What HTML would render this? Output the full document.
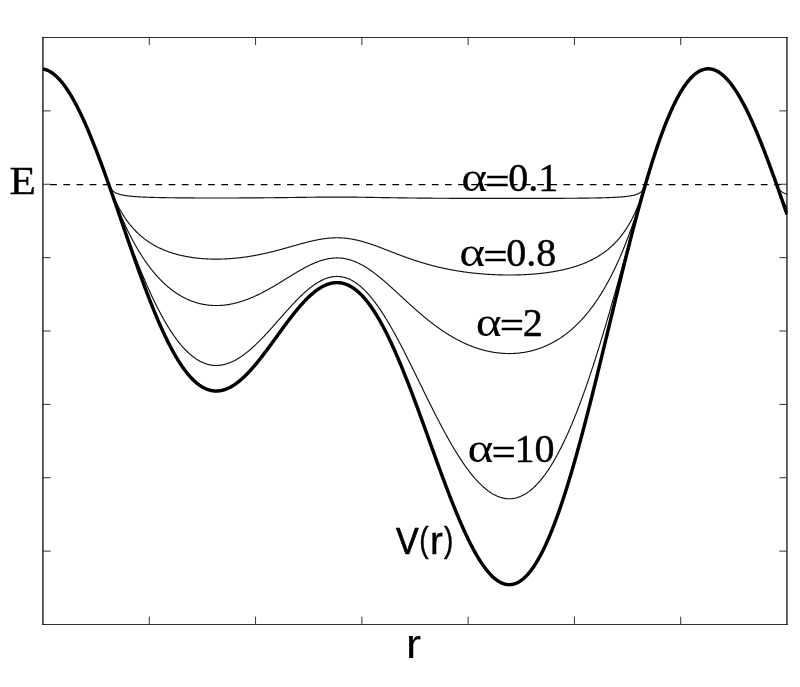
<!DOCTYPE html>
<html><head><meta charset="utf-8"><title>V(r)</title>
<style>
html,body{margin:0;padding:0;background:#fff;}
body{width:800px;height:687px;overflow:hidden;}
svg{display:block;}
.s{font-family:"Liberation Serif",serif;font-size:40px;fill:#000;stroke:#000;stroke-width:0.45px;}
.a{stroke-width:0}
.q{stroke-width:0.3px}
.n{font-family:"Liberation Sans",sans-serif;fill:#000;stroke:#000;stroke-width:0.4px;}
</style></head><body>
<svg width="800" height="687" viewBox="0 0 800 687">
<rect width="800" height="687" fill="#fff"/>
<defs><clipPath id="c"><rect x="43.0" y="37.5" width="744.50" height="587"/></clipPath></defs>
<g fill="none">
<path d="M42.3,37.5H787.6" stroke="#2e2e2e" stroke-width="1.2"/>
<path d="M42.3,624.5H787.6" stroke="#2e2e2e" stroke-width="1.2"/>
<path d="M42.9,37V625" stroke="#111" stroke-width="1.35"/>
<path d="M786.95,37V625" stroke="#111" stroke-width="1.3"/>
</g>
<path d="M149.29,37.5v7.6 M149.29,624.5v-7.8 M255.57,37.5v7.6 M255.57,624.5v-7.8 M361.86,37.5v7.6 M361.86,624.5v-7.8 M468.14,37.5v7.6 M468.14,624.5v-7.8 M574.43,37.5v7.6 M574.43,624.5v-7.8 M680.71,37.5v7.6 M680.71,624.5v-7.8 M43.0,110.88h7.6 M787.0,110.88h-7.6 M43.0,184.25h7.6 M787.0,184.25h-7.6 M43.0,257.62h7.6 M787.0,257.62h-7.6 M43.0,331.00h7.6 M787.0,331.00h-7.6 M43.0,404.38h7.6 M787.0,404.38h-7.6 M43.0,477.75h7.6 M787.0,477.75h-7.6 M43.0,551.12h7.6 M787.0,551.12h-7.6 " fill="none" stroke="#333" stroke-width="1"/>
<path d="M50.2,184.5H787.0" fill="none" stroke="#000" stroke-width="1.25" stroke-dasharray="6.7 6.46"/>
<g clip-path="url(#c)" fill="none" stroke="#000" stroke-linejoin="round">
<path d="M108.91,184.87 L109.41,186.06 L109.91,187.07 L110.41,187.94 L110.91,188.69 L111.41,189.34 L111.91,189.92 L112.41,190.43 L112.91,190.89 L113.41,191.30 L113.90,191.68 L114.40,192.01 L114.90,192.32 L115.40,192.61 L115.90,192.87 L116.40,193.11 L116.90,193.33 L117.40,193.53 L117.90,193.73 L118.40,193.90 L118.90,194.07 L119.40,194.23 L119.90,194.37 L120.40,194.51 L120.90,194.64 L121.39,194.76 L121.89,194.88 L122.39,194.99 L122.89,195.09 L123.39,195.19 L123.89,195.28 L124.39,195.37 L124.89,195.46 L125.39,195.54 L125.89,195.62 L126.39,195.69 L126.89,195.76 L127.39,195.83 L127.89,195.89 L128.39,195.95 L128.88,196.01 L129.38,196.07 L129.88,196.13 L130.38,196.18 L130.88,196.23 L131.38,196.28 L131.88,196.33 L132.38,196.37 L132.88,196.41 L133.38,196.46 L133.88,196.50 L134.38,196.54 L134.88,196.57 L135.38,196.61 L135.88,196.65 L136.37,196.68 L136.87,196.72 L137.37,196.75 L137.87,196.78 L138.37,196.81 L138.87,196.84 L139.37,196.87 L139.87,196.90 L140.37,196.92 L140.87,196.95 L141.37,196.97 L141.87,197.00 L142.37,197.02 L142.87,197.05 L143.37,197.07 L143.86,197.09 L144.36,197.11 L144.86,197.13 L145.36,197.15 L145.86,197.17 L146.36,197.19 L146.86,197.21 L147.36,197.23 L147.86,197.25 L148.36,197.27 L148.86,197.28 L149.36,197.30 L149.86,197.32 L150.36,197.33 L150.86,197.35 L151.35,197.36 L151.85,197.38 L152.35,197.39 L152.85,197.41 L153.35,197.42 L153.85,197.43 L154.35,197.45 L154.85,197.46 L155.35,197.47 L155.85,197.48 L156.35,197.50 L156.85,197.51 L157.35,197.52 L157.85,197.53 L158.34,197.54 L158.84,197.55 L159.34,197.56 L159.84,197.57 L160.34,197.58 L160.84,197.59 L161.34,197.60 L161.84,197.61 L162.34,197.62 L162.84,197.63 L163.34,197.64 L163.84,197.65 L164.34,197.66 L164.84,197.66 L165.34,197.67 L165.83,197.68 L166.33,197.69 L166.83,197.70 L167.33,197.70 L167.83,197.71 L168.33,197.72 L168.83,197.72 L169.33,197.73 L169.83,197.74 L170.33,197.74 L170.83,197.75 L171.33,197.76 L171.83,197.76 L172.33,197.77 L172.83,197.78 L173.32,197.78 L173.82,197.79 L174.32,197.79 L174.82,197.80 L175.32,197.80 L175.82,197.81 L176.32,197.81 L176.82,197.82 L177.32,197.82 L177.82,197.83 L178.32,197.83 L178.82,197.84 L179.32,197.84 L179.82,197.85 L180.32,197.85 L180.81,197.86 L181.31,197.86 L181.81,197.87 L182.31,197.87 L182.81,197.87 L183.31,197.88 L183.81,197.88 L184.31,197.88 L184.81,197.89 L185.31,197.89 L185.81,197.90 L186.31,197.90 L186.81,197.90 L187.31,197.91 L187.81,197.91 L188.30,197.91 L188.80,197.91 L189.30,197.92 L189.80,197.92 L190.30,197.92 L190.80,197.93 L191.30,197.93 L191.80,197.93 L192.30,197.93 L192.80,197.94 L193.30,197.94 L193.80,197.94 L194.30,197.94 L194.80,197.95 L195.30,197.95 L195.79,197.95 L196.29,197.95 L196.79,197.95 L197.29,197.96 L197.79,197.96 L198.29,197.96 L198.79,197.96 L199.29,197.96 L199.79,197.96 L200.29,197.97 L200.79,197.97 L201.29,197.97 L201.79,197.97 L202.29,197.97 L202.79,197.97 L203.28,197.97 L203.78,197.97 L204.28,197.98 L204.78,197.98 L205.28,197.98 L205.78,197.98 L206.28,197.98 L206.78,197.98 L207.28,197.98 L207.78,197.98 L208.28,197.98 L208.78,197.98 L209.28,197.98 L209.78,197.99 L210.28,197.99 L210.77,197.99 L211.27,197.99 L211.77,197.99 L212.27,197.99 L212.77,197.99 L213.27,197.99 L213.77,197.99 L214.27,197.99 L214.77,197.99 L215.27,197.99 L215.77,197.99 L216.27,197.99 L216.77,197.99 L217.27,197.99 L217.77,197.99 L218.26,197.99 L218.76,197.99 L219.26,197.99 L219.76,197.99 L220.26,197.99 L220.76,197.99 L221.26,197.99 L221.76,197.99 L222.26,197.99 L222.76,197.99 L223.26,197.98 L223.76,197.98 L224.26,197.98 L224.76,197.98 L225.26,197.98 L225.75,197.98 L226.25,197.98 L226.75,197.98 L227.25,197.98 L227.75,197.98 L228.25,197.98 L228.75,197.98 L229.25,197.97 L229.75,197.97 L230.25,197.97 L230.75,197.97 L231.25,197.97 L231.75,197.97 L232.25,197.97 L232.74,197.97 L233.24,197.96 L233.74,197.96 L234.24,197.96 L234.74,197.96 L235.24,197.96 L235.74,197.96 L236.24,197.95 L236.74,197.95 L237.24,197.95 L237.74,197.95 L238.24,197.95 L238.74,197.95 L239.24,197.94 L239.74,197.94 L240.23,197.94 L240.73,197.94 L241.23,197.94 L241.73,197.93 L242.23,197.93 L242.73,197.93 L243.23,197.93 L243.73,197.92 L244.23,197.92 L244.73,197.92 L245.23,197.92 L245.73,197.91 L246.23,197.91 L246.73,197.91 L247.23,197.91 L247.72,197.90 L248.22,197.90 L248.72,197.90 L249.22,197.90 L249.72,197.89 L250.22,197.89 L250.72,197.89 L251.22,197.88 L251.72,197.88 L252.22,197.88 L252.72,197.88 L253.22,197.87 L253.72,197.87 L254.22,197.87 L254.72,197.86 L255.21,197.86 L255.71,197.86 L256.21,197.85 L256.71,197.85 L257.21,197.85 L257.71,197.84 L258.21,197.84 L258.71,197.83 L259.21,197.83 L259.71,197.83 L260.21,197.82 L260.71,197.82 L261.21,197.82 L261.71,197.81 L262.21,197.81 L262.70,197.80 L263.20,197.80 L263.70,197.80 L264.20,197.79 L264.70,197.79 L265.20,197.78 L265.70,197.78 L266.20,197.77 L266.70,197.77 L267.20,197.77 L267.70,197.76 L268.20,197.76 L268.70,197.75 L269.20,197.75 L269.70,197.74 L270.19,197.74 L270.69,197.73 L271.19,197.73 L271.69,197.72 L272.19,197.72 L272.69,197.71 L273.19,197.71 L273.69,197.70 L274.19,197.70 L274.69,197.69 L275.19,197.69 L275.69,197.68 L276.19,197.68 L276.69,197.67 L277.19,197.67 L277.68,197.66 L278.18,197.66 L278.68,197.65 L279.18,197.65 L279.68,197.64 L280.18,197.63 L280.68,197.63 L281.18,197.62 L281.68,197.62 L282.18,197.61 L282.68,197.61 L283.18,197.60 L283.68,197.59 L284.18,197.59 L284.68,197.58 L285.17,197.58 L285.67,197.57 L286.17,197.56 L286.67,197.56 L287.17,197.55 L287.67,197.55 L288.17,197.54 L288.67,197.53 L289.17,197.53 L289.67,197.52 L290.17,197.51 L290.67,197.51 L291.17,197.50 L291.67,197.50 L292.17,197.49 L292.66,197.48 L293.16,197.48 L293.66,197.47 L294.16,197.46 L294.66,197.46 L295.16,197.45 L295.66,197.44 L296.16,197.44 L296.66,197.43 L297.16,197.42 L297.66,197.42 L298.16,197.41 L298.66,197.40 L299.16,197.40 L299.66,197.39 L300.15,197.38 L300.65,197.38 L301.15,197.37 L301.65,197.36 L302.15,197.36 L302.65,197.35 L303.15,197.34 L303.65,197.34 L304.15,197.33 L304.65,197.33 L305.15,197.32 L305.65,197.31 L306.15,197.31 L306.65,197.30 L307.14,197.29 L307.64,197.29 L308.14,197.28 L308.64,197.27 L309.14,197.27 L309.64,197.26 L310.14,197.26 L310.64,197.25 L311.14,197.24 L311.64,197.24 L312.14,197.23 L312.64,197.22 L313.14,197.22 L313.64,197.21 L314.14,197.21 L314.63,197.20 L315.13,197.20 L315.63,197.19 L316.13,197.19 L316.63,197.18 L317.13,197.17 L317.63,197.17 L318.13,197.16 L318.63,197.16 L319.13,197.15 L319.63,197.15 L320.13,197.14 L320.63,197.14 L321.13,197.13 L321.63,197.13 L322.12,197.13 L322.62,197.12 L323.12,197.12 L323.62,197.11 L324.12,197.11 L324.62,197.11 L325.12,197.10 L325.62,197.10 L326.12,197.10 L326.62,197.09 L327.12,197.09 L327.62,197.09 L328.12,197.08 L328.62,197.08 L329.12,197.08 L329.61,197.08 L330.11,197.07 L330.61,197.07 L331.11,197.07 L331.61,197.07 L332.11,197.07 L332.61,197.06 L333.11,197.06 L333.61,197.06 L334.11,197.06 L334.61,197.06 L335.11,197.06 L335.61,197.06 L336.11,197.06 L336.61,197.06 L337.10,197.06 L337.60,197.06 L338.10,197.06 L338.60,197.06 L339.10,197.06 L339.60,197.06 L340.10,197.06 L340.60,197.06 L341.10,197.06 L341.60,197.06 L342.10,197.07 L342.60,197.07 L343.10,197.07 L343.60,197.07 L344.10,197.07 L344.59,197.08 L345.09,197.08 L345.59,197.08 L346.09,197.09 L346.59,197.09 L347.09,197.09 L347.59,197.10 L348.09,197.10 L348.59,197.10 L349.09,197.11 L349.59,197.11 L350.09,197.11 L350.59,197.12 L351.09,197.12 L351.59,197.13 L352.08,197.13 L352.58,197.14 L353.08,197.14 L353.58,197.15 L354.08,197.15 L354.58,197.16 L355.08,197.16 L355.58,197.17 L356.08,197.18 L356.58,197.18 L357.08,197.19 L357.58,197.19 L358.08,197.20 L358.58,197.21 L359.08,197.21 L359.57,197.22 L360.07,197.23 L360.57,197.23 L361.07,197.24 L361.57,197.25 L362.07,197.25 L362.57,197.26 L363.07,197.27 L363.57,197.28 L364.07,197.28 L364.57,197.29 L365.07,197.30 L365.57,197.31 L366.07,197.31 L366.57,197.32 L367.06,197.33 L367.56,197.34 L368.06,197.34 L368.56,197.35 L369.06,197.36 L369.56,197.37 L370.06,197.38 L370.56,197.38 L371.06,197.39 L371.56,197.40 L372.06,197.41 L372.56,197.42 L373.06,197.43 L373.56,197.43 L374.06,197.44 L374.55,197.45 L375.05,197.46 L375.55,197.47 L376.05,197.47 L376.55,197.48 L377.05,197.49 L377.55,197.50 L378.05,197.51 L378.55,197.52 L379.05,197.52 L379.55,197.53 L380.05,197.54 L380.55,197.55 L381.05,197.56 L381.54,197.57 L382.04,197.57 L382.54,197.58 L383.04,197.59 L383.54,197.60 L384.04,197.61 L384.54,197.61 L385.04,197.62 L385.54,197.63 L386.04,197.64 L386.54,197.65 L387.04,197.65 L387.54,197.66 L388.04,197.67 L388.54,197.68 L389.03,197.69 L389.53,197.69 L390.03,197.70 L390.53,197.71 L391.03,197.72 L391.53,197.73 L392.03,197.73 L392.53,197.74 L393.03,197.75 L393.53,197.76 L394.03,197.76 L394.53,197.77 L395.03,197.78 L395.53,197.78 L396.03,197.79 L396.52,197.80 L397.02,197.81 L397.52,197.81 L398.02,197.82 L398.52,197.83 L399.02,197.83 L399.52,197.84 L400.02,197.85 L400.52,197.86 L401.02,197.86 L401.52,197.87 L402.02,197.88 L402.52,197.88 L403.02,197.89 L403.52,197.90 L404.01,197.90 L404.51,197.91 L405.01,197.91 L405.51,197.92 L406.01,197.93 L406.51,197.93 L407.01,197.94 L407.51,197.95 L408.01,197.95 L408.51,197.96 L409.01,197.96 L409.51,197.97 L410.01,197.98 L410.51,197.98 L411.01,197.99 L411.50,197.99 L412.00,198.00 L412.50,198.00 L413.00,198.01 L413.50,198.02 L414.00,198.02 L414.50,198.03 L415.00,198.03 L415.50,198.04 L416.00,198.04 L416.50,198.05 L417.00,198.05 L417.50,198.06 L418.00,198.06 L418.50,198.07 L418.99,198.07 L419.49,198.08 L419.99,198.08 L420.49,198.09 L420.99,198.09 L421.49,198.10 L421.99,198.10 L422.49,198.11 L422.99,198.11 L423.49,198.12 L423.99,198.12 L424.49,198.13 L424.99,198.13 L425.49,198.13 L425.99,198.14 L426.48,198.14 L426.98,198.15 L427.48,198.15 L427.98,198.16 L428.48,198.16 L428.98,198.16 L429.48,198.17 L429.98,198.17 L430.48,198.18 L430.98,198.18 L431.48,198.18 L431.98,198.19 L432.48,198.19 L432.98,198.20 L433.48,198.20 L433.97,198.20 L434.47,198.21 L434.97,198.21 L435.47,198.21 L435.97,198.22 L436.47,198.22 L436.97,198.22 L437.47,198.23 L437.97,198.23 L438.47,198.23 L438.97,198.24 L439.47,198.24 L439.97,198.24 L440.47,198.25 L440.97,198.25 L441.46,198.25 L441.96,198.26 L442.46,198.26 L442.96,198.26 L443.46,198.27 L443.96,198.27 L444.46,198.27 L444.96,198.28 L445.46,198.28 L445.96,198.28 L446.46,198.28 L446.96,198.29 L447.46,198.29 L447.96,198.29 L448.46,198.29 L448.95,198.30 L449.45,198.30 L449.95,198.30 L450.45,198.31 L450.95,198.31 L451.45,198.31 L451.95,198.31 L452.45,198.32 L452.95,198.32 L453.45,198.32 L453.95,198.32 L454.45,198.32 L454.95,198.33 L455.45,198.33 L455.94,198.33 L456.44,198.33 L456.94,198.34 L457.44,198.34 L457.94,198.34 L458.44,198.34 L458.94,198.34 L459.44,198.35 L459.94,198.35 L460.44,198.35 L460.94,198.35 L461.44,198.35 L461.94,198.36 L462.44,198.36 L462.94,198.36 L463.43,198.36 L463.93,198.36 L464.43,198.37 L464.93,198.37 L465.43,198.37 L465.93,198.37 L466.43,198.37 L466.93,198.37 L467.43,198.38 L467.93,198.38 L468.43,198.38 L468.93,198.38 L469.43,198.38 L469.93,198.38 L470.43,198.39 L470.92,198.39 L471.42,198.39 L471.92,198.39 L472.42,198.39 L472.92,198.39 L473.42,198.39 L473.92,198.40 L474.42,198.40 L474.92,198.40 L475.42,198.40 L475.92,198.40 L476.42,198.40 L476.92,198.40 L477.42,198.40 L477.92,198.41 L478.41,198.41 L478.91,198.41 L479.41,198.41 L479.91,198.41 L480.41,198.41 L480.91,198.41 L481.41,198.41 L481.91,198.41 L482.41,198.42 L482.91,198.42 L483.41,198.42 L483.91,198.42 L484.41,198.42 L484.91,198.42 L485.41,198.42 L485.90,198.42 L486.40,198.42 L486.90,198.42 L487.40,198.42 L487.90,198.43 L488.40,198.43 L488.90,198.43 L489.40,198.43 L489.90,198.43 L490.40,198.43 L490.90,198.43 L491.40,198.43 L491.90,198.43 L492.40,198.43 L492.90,198.43 L493.39,198.43 L493.89,198.43 L494.39,198.43 L494.89,198.43 L495.39,198.44 L495.89,198.44 L496.39,198.44 L496.89,198.44 L497.39,198.44 L497.89,198.44 L498.39,198.44 L498.89,198.44 L499.39,198.44 L499.89,198.44 L500.39,198.44 L500.88,198.44 L501.38,198.44 L501.88,198.44 L502.38,198.44 L502.88,198.44 L503.38,198.44 L503.88,198.44 L504.38,198.44 L504.88,198.44 L505.38,198.44 L505.88,198.44 L506.38,198.44 L506.88,198.44 L507.38,198.44 L507.88,198.44 L508.37,198.44 L508.87,198.44 L509.37,198.44 L509.87,198.44 L510.37,198.44 L510.87,198.44 L511.37,198.44 L511.87,198.44 L512.37,198.44 L512.87,198.44 L513.37,198.44 L513.87,198.44 L514.37,198.44 L514.87,198.44 L515.37,198.44 L515.86,198.44 L516.36,198.44 L516.86,198.44 L517.36,198.44 L517.86,198.44 L518.36,198.44 L518.86,198.44 L519.36,198.44 L519.86,198.44 L520.36,198.44 L520.86,198.44 L521.36,198.44 L521.86,198.44 L522.36,198.44 L522.86,198.44 L523.35,198.43 L523.85,198.43 L524.35,198.43 L524.85,198.43 L525.35,198.43 L525.85,198.43 L526.35,198.43 L526.85,198.43 L527.35,198.43 L527.85,198.43 L528.35,198.43 L528.85,198.43 L529.35,198.43 L529.85,198.43 L530.34,198.42 L530.84,198.42 L531.34,198.42 L531.84,198.42 L532.34,198.42 L532.84,198.42 L533.34,198.42 L533.84,198.42 L534.34,198.42 L534.84,198.42 L535.34,198.42 L535.84,198.41 L536.34,198.41 L536.84,198.41 L537.34,198.41 L537.83,198.41 L538.33,198.41 L538.83,198.41 L539.33,198.41 L539.83,198.40 L540.33,198.40 L540.83,198.40 L541.33,198.40 L541.83,198.40 L542.33,198.40 L542.83,198.40 L543.33,198.39 L543.83,198.39 L544.33,198.39 L544.83,198.39 L545.32,198.39 L545.82,198.39 L546.32,198.38 L546.82,198.38 L547.32,198.38 L547.82,198.38 L548.32,198.38 L548.82,198.38 L549.32,198.37 L549.82,198.37 L550.32,198.37 L550.82,198.37 L551.32,198.37 L551.82,198.36 L552.32,198.36 L552.81,198.36 L553.31,198.36 L553.81,198.36 L554.31,198.35 L554.81,198.35 L555.31,198.35 L555.81,198.35 L556.31,198.34 L556.81,198.34 L557.31,198.34 L557.81,198.34 L558.31,198.33 L558.81,198.33 L559.31,198.33 L559.81,198.33 L560.30,198.32 L560.80,198.32 L561.30,198.32 L561.80,198.32 L562.30,198.31 L562.80,198.31 L563.30,198.31 L563.80,198.30 L564.30,198.30 L564.80,198.30 L565.30,198.29 L565.80,198.29 L566.30,198.29 L566.80,198.28 L567.30,198.28 L567.79,198.28 L568.29,198.27 L568.79,198.27 L569.29,198.27 L569.79,198.26 L570.29,198.26 L570.79,198.26 L571.29,198.25 L571.79,198.25 L572.29,198.24 L572.79,198.24 L573.29,198.23 L573.79,198.23 L574.29,198.23 L574.79,198.22 L575.28,198.22 L575.78,198.21 L576.28,198.21 L576.78,198.20 L577.28,198.20 L577.78,198.19 L578.28,198.19 L578.78,198.18 L579.28,198.18 L579.78,198.17 L580.28,198.17 L580.78,198.16 L581.28,198.16 L581.78,198.15 L582.28,198.15 L582.77,198.14 L583.27,198.13 L583.77,198.13 L584.27,198.12 L584.77,198.12 L585.27,198.11 L585.77,198.10 L586.27,198.10 L586.77,198.09 L587.27,198.08 L587.77,198.08 L588.27,198.07 L588.77,198.06 L589.27,198.05 L589.77,198.05 L590.26,198.04 L590.76,198.03 L591.26,198.02 L591.76,198.01 L592.26,198.01 L592.76,198.00 L593.26,197.99 L593.76,197.98 L594.26,197.97 L594.76,197.96 L595.26,197.95 L595.76,197.94 L596.26,197.93 L596.76,197.92 L597.26,197.91 L597.75,197.90 L598.25,197.89 L598.75,197.88 L599.25,197.87 L599.75,197.86 L600.25,197.85 L600.75,197.83 L601.25,197.82 L601.75,197.81 L602.25,197.80 L602.75,197.78 L603.25,197.77 L603.75,197.76 L604.25,197.74 L604.74,197.73 L605.24,197.71 L605.74,197.70 L606.24,197.68 L606.74,197.67 L607.24,197.65 L607.74,197.63 L608.24,197.62 L608.74,197.60 L609.24,197.58 L609.74,197.56 L610.24,197.54 L610.74,197.52 L611.24,197.50 L611.74,197.48 L612.23,197.46 L612.73,197.44 L613.23,197.42 L613.73,197.39 L614.23,197.37 L614.73,197.35 L615.23,197.32 L615.73,197.29 L616.23,197.27 L616.73,197.24 L617.23,197.21 L617.73,197.18 L618.23,197.15 L618.73,197.12 L619.23,197.09 L619.72,197.05 L620.22,197.02 L620.72,196.98 L621.22,196.94 L621.72,196.90 L622.22,196.86 L622.72,196.82 L623.22,196.78 L623.72,196.73 L624.22,196.69 L624.72,196.64 L625.22,196.59 L625.72,196.53 L626.22,196.48 L626.72,196.42 L627.21,196.36 L627.71,196.29 L628.21,196.23 L628.71,196.16 L629.21,196.08 L629.71,196.01 L630.21,195.92 L630.71,195.84 L631.21,195.75 L631.71,195.65 L632.21,195.55 L632.71,195.45 L633.21,195.33 L633.71,195.21 L634.21,195.08 L634.70,194.95 L635.20,194.80 L635.70,194.64 L636.20,194.47 L636.70,194.29 L637.20,194.10 L637.70,193.88 L638.20,193.65 L638.70,193.40 L639.20,193.13 L639.70,192.82 L640.20,192.49 L640.70,192.12 L641.20,191.70 L641.70,191.24 L642.19,190.71 L642.69,190.11 L643.19,189.42 L643.69,188.61 L644.19,187.67 L644.69,186.54 L645.19,185.16 M777.01,185.58 L777.51,186.67 L778.01,187.59 L778.51,188.38 L779.01,189.08 L779.51,189.68 L780.01,190.22 L780.51,190.70 L781.01,191.13 L781.51,191.52 L782.01,191.88 L782.51,192.20 L783.01,192.49 L783.50,192.76 L784.00,193.01 L784.50,193.24 L785.00,193.45 L785.50,193.65 L786.00,193.83 L786.50,194.00 L787.00,194.16" stroke="#111" stroke-width="1.15"/>
<path d="M108.91,184.89 L109.41,186.27 L109.91,187.62 L110.41,188.95 L110.91,190.24 L111.41,191.51 L111.91,192.75 L112.41,193.97 L112.91,195.16 L113.41,196.33 L113.90,197.48 L114.40,198.60 L114.90,199.70 L115.40,200.77 L115.90,201.83 L116.40,202.86 L116.90,203.88 L117.40,204.87 L117.90,205.84 L118.40,206.80 L118.90,207.74 L119.40,208.66 L119.90,209.56 L120.40,210.45 L120.90,211.32 L121.39,212.17 L121.89,213.01 L122.39,213.83 L122.89,214.63 L123.39,215.42 L123.89,216.20 L124.39,216.96 L124.89,217.71 L125.39,218.45 L125.89,219.17 L126.39,219.88 L126.89,220.58 L127.39,221.26 L127.89,221.93 L128.39,222.59 L128.88,223.24 L129.38,223.88 L129.88,224.51 L130.38,225.12 L130.88,225.73 L131.38,226.32 L131.88,226.91 L132.38,227.48 L132.88,228.05 L133.38,228.60 L133.88,229.15 L134.38,229.68 L134.88,230.21 L135.38,230.73 L135.88,231.24 L136.37,231.74 L136.87,232.24 L137.37,232.72 L137.87,233.20 L138.37,233.67 L138.87,234.13 L139.37,234.59 L139.87,235.04 L140.37,235.48 L140.87,235.91 L141.37,236.33 L141.87,236.75 L142.37,237.17 L142.87,237.57 L143.37,237.97 L143.86,238.36 L144.36,238.75 L144.86,239.13 L145.36,239.51 L145.86,239.88 L146.36,240.24 L146.86,240.60 L147.36,240.95 L147.86,241.29 L148.36,241.63 L148.86,241.97 L149.36,242.30 L149.86,242.62 L150.36,242.94 L150.86,243.26 L151.35,243.57 L151.85,243.87 L152.35,244.17 L152.85,244.47 L153.35,244.76 L153.85,245.05 L154.35,245.33 L154.85,245.61 L155.35,245.88 L155.85,246.15 L156.35,246.42 L156.85,246.68 L157.35,246.93 L157.85,247.19 L158.34,247.44 L158.84,247.68 L159.34,247.92 L159.84,248.16 L160.34,248.39 L160.84,248.62 L161.34,248.85 L161.84,249.07 L162.34,249.29 L162.84,249.51 L163.34,249.72 L163.84,249.93 L164.34,250.14 L164.84,250.34 L165.34,250.54 L165.83,250.74 L166.33,250.93 L166.83,251.12 L167.33,251.31 L167.83,251.49 L168.33,251.67 L168.83,251.85 L169.33,252.03 L169.83,252.20 L170.33,252.37 L170.83,252.53 L171.33,252.70 L171.83,252.86 L172.33,253.02 L172.83,253.18 L173.32,253.33 L173.82,253.48 L174.32,253.63 L174.82,253.77 L175.32,253.92 L175.82,254.06 L176.32,254.20 L176.82,254.33 L177.32,254.47 L177.82,254.60 L178.32,254.73 L178.82,254.85 L179.32,254.98 L179.82,255.10 L180.32,255.22 L180.81,255.34 L181.31,255.46 L181.81,255.57 L182.31,255.68 L182.81,255.79 L183.31,255.90 L183.81,256.00 L184.31,256.10 L184.81,256.21 L185.31,256.30 L185.81,256.40 L186.31,256.50 L186.81,256.59 L187.31,256.68 L187.81,256.77 L188.30,256.86 L188.80,256.94 L189.30,257.03 L189.80,257.11 L190.30,257.19 L190.80,257.27 L191.30,257.34 L191.80,257.42 L192.30,257.49 L192.80,257.56 L193.30,257.63 L193.80,257.70 L194.30,257.76 L194.80,257.83 L195.30,257.89 L195.79,257.95 L196.29,258.01 L196.79,258.07 L197.29,258.12 L197.79,258.18 L198.29,258.23 L198.79,258.28 L199.29,258.33 L199.79,258.38 L200.29,258.42 L200.79,258.47 L201.29,258.51 L201.79,258.55 L202.29,258.59 L202.79,258.63 L203.28,258.67 L203.78,258.70 L204.28,258.74 L204.78,258.77 L205.28,258.80 L205.78,258.83 L206.28,258.86 L206.78,258.89 L207.28,258.91 L207.78,258.94 L208.28,258.96 L208.78,258.98 L209.28,259.00 L209.78,259.02 L210.28,259.03 L210.77,259.05 L211.27,259.06 L211.77,259.08 L212.27,259.09 L212.77,259.10 L213.27,259.11 L213.77,259.11 L214.27,259.12 L214.77,259.12 L215.27,259.13 L215.77,259.13 L216.27,259.13 L216.77,259.13 L217.27,259.13 L217.77,259.12 L218.26,259.12 L218.76,259.11 L219.26,259.10 L219.76,259.09 L220.26,259.09 L220.76,259.07 L221.26,259.06 L221.76,259.05 L222.26,259.03 L222.76,259.02 L223.26,259.00 L223.76,258.98 L224.26,258.96 L224.76,258.94 L225.26,258.92 L225.75,258.89 L226.25,258.87 L226.75,258.84 L227.25,258.81 L227.75,258.79 L228.25,258.76 L228.75,258.72 L229.25,258.69 L229.75,258.66 L230.25,258.62 L230.75,258.59 L231.25,258.55 L231.75,258.51 L232.25,258.47 L232.74,258.43 L233.24,258.39 L233.74,258.35 L234.24,258.30 L234.74,258.26 L235.24,258.21 L235.74,258.16 L236.24,258.11 L236.74,258.06 L237.24,258.01 L237.74,257.96 L238.24,257.90 L238.74,257.85 L239.24,257.79 L239.74,257.74 L240.23,257.68 L240.73,257.62 L241.23,257.56 L241.73,257.50 L242.23,257.43 L242.73,257.37 L243.23,257.30 L243.73,257.24 L244.23,257.17 L244.73,257.10 L245.23,257.03 L245.73,256.96 L246.23,256.89 L246.73,256.81 L247.23,256.74 L247.72,256.67 L248.22,256.59 L248.72,256.51 L249.22,256.43 L249.72,256.35 L250.22,256.27 L250.72,256.19 L251.22,256.11 L251.72,256.02 L252.22,255.94 L252.72,255.85 L253.22,255.76 L253.72,255.67 L254.22,255.59 L254.72,255.49 L255.21,255.40 L255.71,255.31 L256.21,255.22 L256.71,255.12 L257.21,255.03 L257.71,254.93 L258.21,254.83 L258.71,254.73 L259.21,254.63 L259.71,254.53 L260.21,254.43 L260.71,254.33 L261.21,254.22 L261.71,254.12 L262.21,254.01 L262.70,253.90 L263.20,253.80 L263.70,253.69 L264.20,253.58 L264.70,253.47 L265.20,253.36 L265.70,253.24 L266.20,253.13 L266.70,253.02 L267.20,252.90 L267.70,252.78 L268.20,252.67 L268.70,252.55 L269.20,252.43 L269.70,252.31 L270.19,252.19 L270.69,252.07 L271.19,251.95 L271.69,251.82 L272.19,251.70 L272.69,251.58 L273.19,251.45 L273.69,251.33 L274.19,251.20 L274.69,251.07 L275.19,250.94 L275.69,250.81 L276.19,250.68 L276.69,250.55 L277.19,250.42 L277.68,250.29 L278.18,250.16 L278.68,250.03 L279.18,249.89 L279.68,249.76 L280.18,249.63 L280.68,249.49 L281.18,249.36 L281.68,249.22 L282.18,249.08 L282.68,248.95 L283.18,248.81 L283.68,248.67 L284.18,248.53 L284.68,248.39 L285.17,248.25 L285.67,248.11 L286.17,247.98 L286.67,247.84 L287.17,247.69 L287.67,247.55 L288.17,247.41 L288.67,247.27 L289.17,247.13 L289.67,246.99 L290.17,246.85 L290.67,246.71 L291.17,246.57 L291.67,246.42 L292.17,246.28 L292.66,246.14 L293.16,246.00 L293.66,245.86 L294.16,245.72 L294.66,245.57 L295.16,245.43 L295.66,245.29 L296.16,245.15 L296.66,245.01 L297.16,244.87 L297.66,244.73 L298.16,244.59 L298.66,244.45 L299.16,244.31 L299.66,244.17 L300.15,244.04 L300.65,243.90 L301.15,243.76 L301.65,243.63 L302.15,243.49 L302.65,243.35 L303.15,243.22 L303.65,243.09 L304.15,242.95 L304.65,242.82 L305.15,242.69 L305.65,242.56 L306.15,242.43 L306.65,242.30 L307.14,242.17 L307.64,242.05 L308.14,241.92 L308.64,241.80 L309.14,241.68 L309.64,241.55 L310.14,241.43 L310.64,241.31 L311.14,241.19 L311.64,241.08 L312.14,240.96 L312.64,240.85 L313.14,240.74 L313.64,240.62 L314.14,240.52 L314.63,240.41 L315.13,240.30 L315.63,240.20 L316.13,240.09 L316.63,239.99 L317.13,239.89 L317.63,239.80 L318.13,239.70 L318.63,239.61 L319.13,239.51 L319.63,239.42 L320.13,239.34 L320.63,239.25 L321.13,239.17 L321.63,239.08 L322.12,239.01 L322.62,238.93 L323.12,238.85 L323.62,238.78 L324.12,238.71 L324.62,238.64 L325.12,238.58 L325.62,238.51 L326.12,238.45 L326.62,238.39 L327.12,238.34 L327.62,238.28 L328.12,238.23 L328.62,238.18 L329.12,238.14 L329.61,238.10 L330.11,238.06 L330.61,238.02 L331.11,237.98 L331.61,237.95 L332.11,237.92 L332.61,237.89 L333.11,237.87 L333.61,237.85 L334.11,237.83 L334.61,237.82 L335.11,237.80 L335.61,237.79 L336.11,237.79 L336.61,237.78 L337.10,237.78 L337.60,237.78 L338.10,237.79 L338.60,237.80 L339.10,237.81 L339.60,237.82 L340.10,237.84 L340.60,237.86 L341.10,237.88 L341.60,237.91 L342.10,237.94 L342.60,237.97 L343.10,238.00 L343.60,238.04 L344.10,238.08 L344.59,238.13 L345.09,238.17 L345.59,238.22 L346.09,238.28 L346.59,238.33 L347.09,238.39 L347.59,238.45 L348.09,238.52 L348.59,238.58 L349.09,238.65 L349.59,238.73 L350.09,238.80 L350.59,238.88 L351.09,238.96 L351.59,239.05 L352.08,239.14 L352.58,239.23 L353.08,239.32 L353.58,239.41 L354.08,239.51 L354.58,239.61 L355.08,239.72 L355.58,239.82 L356.08,239.93 L356.58,240.04 L357.08,240.15 L357.58,240.27 L358.08,240.39 L358.58,240.51 L359.08,240.63 L359.57,240.76 L360.07,240.89 L360.57,241.02 L361.07,241.15 L361.57,241.28 L362.07,241.42 L362.57,241.56 L363.07,241.70 L363.57,241.84 L364.07,241.99 L364.57,242.14 L365.07,242.28 L365.57,242.43 L366.07,242.59 L366.57,242.74 L367.06,242.90 L367.56,243.06 L368.06,243.22 L368.56,243.38 L369.06,243.54 L369.56,243.70 L370.06,243.87 L370.56,244.04 L371.06,244.21 L371.56,244.38 L372.06,244.55 L372.56,244.72 L373.06,244.90 L373.56,245.07 L374.06,245.25 L374.55,245.42 L375.05,245.60 L375.55,245.78 L376.05,245.96 L376.55,246.15 L377.05,246.33 L377.55,246.51 L378.05,246.70 L378.55,246.88 L379.05,247.07 L379.55,247.26 L380.05,247.44 L380.55,247.63 L381.05,247.82 L381.54,248.01 L382.04,248.20 L382.54,248.39 L383.04,248.58 L383.54,248.77 L384.04,248.96 L384.54,249.16 L385.04,249.35 L385.54,249.54 L386.04,249.73 L386.54,249.93 L387.04,250.12 L387.54,250.31 L388.04,250.51 L388.54,250.70 L389.03,250.89 L389.53,251.09 L390.03,251.28 L390.53,251.48 L391.03,251.67 L391.53,251.86 L392.03,252.06 L392.53,252.25 L393.03,252.44 L393.53,252.64 L394.03,252.83 L394.53,253.02 L395.03,253.21 L395.53,253.40 L396.03,253.60 L396.52,253.79 L397.02,253.98 L397.52,254.17 L398.02,254.36 L398.52,254.55 L399.02,254.74 L399.52,254.92 L400.02,255.11 L400.52,255.30 L401.02,255.49 L401.52,255.67 L402.02,255.86 L402.52,256.04 L403.02,256.23 L403.52,256.41 L404.01,256.59 L404.51,256.78 L405.01,256.96 L405.51,257.14 L406.01,257.32 L406.51,257.50 L407.01,257.68 L407.51,257.86 L408.01,258.03 L408.51,258.21 L409.01,258.39 L409.51,258.56 L410.01,258.74 L410.51,258.91 L411.01,259.08 L411.50,259.25 L412.00,259.42 L412.50,259.59 L413.00,259.76 L413.50,259.93 L414.00,260.10 L414.50,260.27 L415.00,260.43 L415.50,260.60 L416.00,260.76 L416.50,260.92 L417.00,261.08 L417.50,261.24 L418.00,261.40 L418.50,261.56 L418.99,261.72 L419.49,261.88 L419.99,262.03 L420.49,262.19 L420.99,262.34 L421.49,262.50 L421.99,262.65 L422.49,262.80 L422.99,262.95 L423.49,263.10 L423.99,263.25 L424.49,263.39 L424.99,263.54 L425.49,263.68 L425.99,263.83 L426.48,263.97 L426.98,264.11 L427.48,264.25 L427.98,264.39 L428.48,264.53 L428.98,264.67 L429.48,264.81 L429.98,264.94 L430.48,265.08 L430.98,265.21 L431.48,265.35 L431.98,265.48 L432.48,265.61 L432.98,265.74 L433.48,265.87 L433.97,265.99 L434.47,266.12 L434.97,266.25 L435.47,266.37 L435.97,266.50 L436.47,266.62 L436.97,266.74 L437.47,266.86 L437.97,266.98 L438.47,267.10 L438.97,267.22 L439.47,267.33 L439.97,267.45 L440.47,267.56 L440.97,267.68 L441.46,267.79 L441.96,267.90 L442.46,268.01 L442.96,268.12 L443.46,268.23 L443.96,268.34 L444.46,268.45 L444.96,268.55 L445.46,268.66 L445.96,268.76 L446.46,268.86 L446.96,268.96 L447.46,269.07 L447.96,269.17 L448.46,269.27 L448.95,269.36 L449.45,269.46 L449.95,269.56 L450.45,269.65 L450.95,269.75 L451.45,269.84 L451.95,269.93 L452.45,270.02 L452.95,270.11 L453.45,270.20 L453.95,270.29 L454.45,270.38 L454.95,270.47 L455.45,270.55 L455.94,270.64 L456.44,270.72 L456.94,270.81 L457.44,270.89 L457.94,270.97 L458.44,271.05 L458.94,271.13 L459.44,271.21 L459.94,271.29 L460.44,271.36 L460.94,271.44 L461.44,271.52 L461.94,271.59 L462.44,271.66 L462.94,271.74 L463.43,271.81 L463.93,271.88 L464.43,271.95 L464.93,272.02 L465.43,272.09 L465.93,272.15 L466.43,272.22 L466.93,272.29 L467.43,272.35 L467.93,272.42 L468.43,272.48 L468.93,272.54 L469.43,272.60 L469.93,272.66 L470.43,272.72 L470.92,272.78 L471.42,272.84 L471.92,272.90 L472.42,272.96 L472.92,273.01 L473.42,273.07 L473.92,273.12 L474.42,273.17 L474.92,273.23 L475.42,273.28 L475.92,273.33 L476.42,273.38 L476.92,273.43 L477.42,273.48 L477.92,273.53 L478.41,273.57 L478.91,273.62 L479.41,273.67 L479.91,273.71 L480.41,273.75 L480.91,273.80 L481.41,273.84 L481.91,273.88 L482.41,273.92 L482.91,273.96 L483.41,274.00 L483.91,274.04 L484.41,274.08 L484.91,274.12 L485.41,274.15 L485.90,274.19 L486.40,274.22 L486.90,274.26 L487.40,274.29 L487.90,274.32 L488.40,274.35 L488.90,274.38 L489.40,274.41 L489.90,274.44 L490.40,274.47 L490.90,274.50 L491.40,274.53 L491.90,274.55 L492.40,274.58 L492.90,274.60 L493.39,274.63 L493.89,274.65 L494.39,274.67 L494.89,274.70 L495.39,274.72 L495.89,274.74 L496.39,274.76 L496.89,274.78 L497.39,274.80 L497.89,274.81 L498.39,274.83 L498.89,274.85 L499.39,274.86 L499.89,274.88 L500.39,274.89 L500.88,274.90 L501.38,274.91 L501.88,274.93 L502.38,274.94 L502.88,274.95 L503.38,274.96 L503.88,274.96 L504.38,274.97 L504.88,274.98 L505.38,274.99 L505.88,274.99 L506.38,275.00 L506.88,275.00 L507.38,275.00 L507.88,275.01 L508.37,275.01 L508.87,275.01 L509.37,275.01 L509.87,275.01 L510.37,275.01 L510.87,275.00 L511.37,275.00 L511.87,275.00 L512.37,274.99 L512.87,274.99 L513.37,274.98 L513.87,274.98 L514.37,274.97 L514.87,274.96 L515.37,274.95 L515.86,274.94 L516.36,274.93 L516.86,274.92 L517.36,274.91 L517.86,274.89 L518.36,274.88 L518.86,274.87 L519.36,274.85 L519.86,274.83 L520.36,274.82 L520.86,274.80 L521.36,274.78 L521.86,274.76 L522.36,274.74 L522.86,274.72 L523.35,274.70 L523.85,274.68 L524.35,274.65 L524.85,274.63 L525.35,274.60 L525.85,274.58 L526.35,274.55 L526.85,274.52 L527.35,274.49 L527.85,274.46 L528.35,274.43 L528.85,274.40 L529.35,274.37 L529.85,274.34 L530.34,274.30 L530.84,274.27 L531.34,274.23 L531.84,274.19 L532.34,274.16 L532.84,274.12 L533.34,274.08 L533.84,274.04 L534.34,274.00 L534.84,273.95 L535.34,273.91 L535.84,273.87 L536.34,273.82 L536.84,273.78 L537.34,273.73 L537.83,273.68 L538.33,273.63 L538.83,273.58 L539.33,273.53 L539.83,273.48 L540.33,273.43 L540.83,273.37 L541.33,273.32 L541.83,273.26 L542.33,273.20 L542.83,273.14 L543.33,273.09 L543.83,273.02 L544.33,272.96 L544.83,272.90 L545.32,272.84 L545.82,272.77 L546.32,272.71 L546.82,272.64 L547.32,272.57 L547.82,272.50 L548.32,272.43 L548.82,272.36 L549.32,272.29 L549.82,272.21 L550.32,272.14 L550.82,272.06 L551.32,271.98 L551.82,271.90 L552.32,271.82 L552.81,271.74 L553.31,271.66 L553.81,271.57 L554.31,271.49 L554.81,271.40 L555.31,271.31 L555.81,271.22 L556.31,271.13 L556.81,271.04 L557.31,270.95 L557.81,270.85 L558.31,270.75 L558.81,270.66 L559.31,270.56 L559.81,270.46 L560.30,270.35 L560.80,270.25 L561.30,270.14 L561.80,270.04 L562.30,269.93 L562.80,269.82 L563.30,269.71 L563.80,269.59 L564.30,269.48 L564.80,269.36 L565.30,269.24 L565.80,269.12 L566.30,269.00 L566.80,268.88 L567.30,268.75 L567.79,268.63 L568.29,268.50 L568.79,268.37 L569.29,268.23 L569.79,268.10 L570.29,267.96 L570.79,267.82 L571.29,267.68 L571.79,267.54 L572.29,267.40 L572.79,267.25 L573.29,267.10 L573.79,266.95 L574.29,266.80 L574.79,266.65 L575.28,266.49 L575.78,266.33 L576.28,266.17 L576.78,266.01 L577.28,265.84 L577.78,265.67 L578.28,265.50 L578.78,265.33 L579.28,265.15 L579.78,264.98 L580.28,264.80 L580.78,264.61 L581.28,264.43 L581.78,264.24 L582.28,264.05 L582.77,263.86 L583.27,263.66 L583.77,263.46 L584.27,263.26 L584.77,263.06 L585.27,262.85 L585.77,262.64 L586.27,262.43 L586.77,262.21 L587.27,261.99 L587.77,261.77 L588.27,261.54 L588.77,261.32 L589.27,261.08 L589.77,260.85 L590.26,260.61 L590.76,260.37 L591.26,260.12 L591.76,259.87 L592.26,259.62 L592.76,259.36 L593.26,259.10 L593.76,258.84 L594.26,258.57 L594.76,258.30 L595.26,258.02 L595.76,257.74 L596.26,257.46 L596.76,257.17 L597.26,256.88 L597.75,256.58 L598.25,256.28 L598.75,255.98 L599.25,255.67 L599.75,255.35 L600.25,255.03 L600.75,254.71 L601.25,254.38 L601.75,254.04 L602.25,253.70 L602.75,253.36 L603.25,253.01 L603.75,252.65 L604.25,252.29 L604.74,251.93 L605.24,251.55 L605.74,251.18 L606.24,250.79 L606.74,250.40 L607.24,250.01 L607.74,249.60 L608.24,249.20 L608.74,248.78 L609.24,248.36 L609.74,247.93 L610.24,247.49 L610.74,247.05 L611.24,246.60 L611.74,246.14 L612.23,245.68 L612.73,245.21 L613.23,244.73 L613.73,244.24 L614.23,243.74 L614.73,243.24 L615.23,242.72 L615.73,242.20 L616.23,241.67 L616.73,241.13 L617.23,240.58 L617.73,240.02 L618.23,239.46 L618.73,238.88 L619.23,238.29 L619.72,237.69 L620.22,237.08 L620.72,236.46 L621.22,235.83 L621.72,235.19 L622.22,234.53 L622.72,233.87 L623.22,233.19 L623.72,232.50 L624.22,231.80 L624.72,231.08 L625.22,230.36 L625.72,229.61 L626.22,228.86 L626.72,228.09 L627.21,227.30 L627.71,226.50 L628.21,225.69 L628.71,224.85 L629.21,224.01 L629.71,223.14 L630.21,222.26 L630.71,221.36 L631.21,220.45 L631.71,219.51 L632.21,218.56 L632.71,217.59 L633.21,216.60 L633.71,215.59 L634.21,214.55 L634.70,213.50 L635.20,212.42 L635.70,211.33 L636.20,210.20 L636.70,209.06 L637.20,207.89 L637.70,206.69 L638.20,205.47 L638.70,204.23 L639.20,202.95 L639.70,201.65 L640.20,200.32 L640.70,198.96 L641.20,197.56 L641.70,196.14 L642.19,194.68 L642.69,193.19 L643.19,191.67 L643.69,190.11 L644.19,188.51 L644.69,186.88 L645.19,185.21 M777.01,185.69 L777.51,187.06 L778.01,188.39 L778.51,189.70 L779.01,190.98 L779.51,192.23 L780.01,193.46 L780.51,194.66 L781.01,195.84 L781.51,197.00 L782.01,198.13 L782.51,199.24 L783.01,200.32 L783.50,201.39 L784.00,202.43 L784.50,203.45 L785.00,204.45 L785.50,205.44 L786.00,206.40 L786.50,207.35 L787.00,208.27" stroke="#111" stroke-width="1.15"/>
<path d="M108.91,184.89 L109.41,186.29 L109.91,187.68 L110.41,189.06 L110.91,190.43 L111.41,191.79 L111.91,193.14 L112.41,194.48 L112.91,195.80 L113.41,197.12 L113.90,198.43 L114.40,199.72 L114.90,201.01 L115.40,202.29 L115.90,203.55 L116.40,204.81 L116.90,206.05 L117.40,207.29 L117.90,208.51 L118.40,209.73 L118.90,210.93 L119.40,212.13 L119.90,213.31 L120.40,214.48 L120.90,215.65 L121.39,216.80 L121.89,217.95 L122.39,219.08 L122.89,220.20 L123.39,221.32 L123.89,222.42 L124.39,223.52 L124.89,224.60 L125.39,225.68 L125.89,226.74 L126.39,227.80 L126.89,228.84 L127.39,229.88 L127.89,230.90 L128.39,231.92 L128.88,232.93 L129.38,233.93 L129.88,234.92 L130.38,235.90 L130.88,236.87 L131.38,237.83 L131.88,238.78 L132.38,239.73 L132.88,240.66 L133.38,241.58 L133.88,242.50 L134.38,243.41 L134.88,244.31 L135.38,245.20 L135.88,246.08 L136.37,246.95 L136.87,247.82 L137.37,248.67 L137.87,249.52 L138.37,250.36 L138.87,251.19 L139.37,252.01 L139.87,252.82 L140.37,253.63 L140.87,254.42 L141.37,255.21 L141.87,255.99 L142.37,256.77 L142.87,257.53 L143.37,258.29 L143.86,259.04 L144.36,259.78 L144.86,260.51 L145.36,261.24 L145.86,261.95 L146.36,262.66 L146.86,263.37 L147.36,264.06 L147.86,264.75 L148.36,265.43 L148.86,266.10 L149.36,266.77 L149.86,267.43 L150.36,268.08 L150.86,268.72 L151.35,269.36 L151.85,269.99 L152.35,270.61 L152.85,271.23 L153.35,271.84 L153.85,272.44 L154.35,273.04 L154.85,273.62 L155.35,274.21 L155.85,274.78 L156.35,275.35 L156.85,275.91 L157.35,276.47 L157.85,277.02 L158.34,277.56 L158.84,278.09 L159.34,278.62 L159.84,279.15 L160.34,279.66 L160.84,280.17 L161.34,280.68 L161.84,281.18 L162.34,281.67 L162.84,282.15 L163.34,282.63 L163.84,283.11 L164.34,283.57 L164.84,284.04 L165.34,284.49 L165.83,284.94 L166.33,285.39 L166.83,285.83 L167.33,286.26 L167.83,286.69 L168.33,287.11 L168.83,287.52 L169.33,287.93 L169.83,288.34 L170.33,288.74 L170.83,289.13 L171.33,289.52 L171.83,289.90 L172.33,290.28 L172.83,290.65 L173.32,291.02 L173.82,291.38 L174.32,291.73 L174.82,292.08 L175.32,292.43 L175.82,292.77 L176.32,293.11 L176.82,293.44 L177.32,293.76 L177.82,294.08 L178.32,294.40 L178.82,294.71 L179.32,295.01 L179.82,295.31 L180.32,295.61 L180.81,295.90 L181.31,296.18 L181.81,296.46 L182.31,296.74 L182.81,297.01 L183.31,297.28 L183.81,297.54 L184.31,297.80 L184.81,298.05 L185.31,298.30 L185.81,298.54 L186.31,298.78 L186.81,299.02 L187.31,299.24 L187.81,299.47 L188.30,299.69 L188.80,299.91 L189.30,300.12 L189.80,300.33 L190.30,300.53 L190.80,300.73 L191.30,300.92 L191.80,301.11 L192.30,301.30 L192.80,301.48 L193.30,301.66 L193.80,301.83 L194.30,302.00 L194.80,302.16 L195.30,302.32 L195.79,302.48 L196.29,302.63 L196.79,302.78 L197.29,302.92 L197.79,303.06 L198.29,303.20 L198.79,303.33 L199.29,303.46 L199.79,303.58 L200.29,303.70 L200.79,303.82 L201.29,303.93 L201.79,304.04 L202.29,304.14 L202.79,304.24 L203.28,304.34 L203.78,304.43 L204.28,304.52 L204.78,304.61 L205.28,304.69 L205.78,304.77 L206.28,304.84 L206.78,304.91 L207.28,304.97 L207.78,305.04 L208.28,305.10 L208.78,305.15 L209.28,305.20 L209.78,305.25 L210.28,305.29 L210.77,305.33 L211.27,305.37 L211.77,305.40 L212.27,305.43 L212.77,305.46 L213.27,305.48 L213.77,305.50 L214.27,305.52 L214.77,305.53 L215.27,305.54 L215.77,305.54 L216.27,305.54 L216.77,305.54 L217.27,305.53 L217.77,305.52 L218.26,305.51 L218.76,305.50 L219.26,305.48 L219.76,305.45 L220.26,305.43 L220.76,305.40 L221.26,305.37 L221.76,305.33 L222.26,305.29 L222.76,305.25 L223.26,305.20 L223.76,305.15 L224.26,305.10 L224.76,305.05 L225.26,304.99 L225.75,304.92 L226.25,304.86 L226.75,304.79 L227.25,304.72 L227.75,304.64 L228.25,304.57 L228.75,304.48 L229.25,304.40 L229.75,304.31 L230.25,304.22 L230.75,304.13 L231.25,304.03 L231.75,303.93 L232.25,303.83 L232.74,303.72 L233.24,303.61 L233.74,303.50 L234.24,303.39 L234.74,303.27 L235.24,303.15 L235.74,303.03 L236.24,302.90 L236.74,302.77 L237.24,302.64 L237.74,302.50 L238.24,302.36 L238.74,302.22 L239.24,302.08 L239.74,301.93 L240.23,301.78 L240.73,301.63 L241.23,301.47 L241.73,301.31 L242.23,301.15 L242.73,300.99 L243.23,300.82 L243.73,300.65 L244.23,300.48 L244.73,300.31 L245.23,300.13 L245.73,299.95 L246.23,299.77 L246.73,299.58 L247.23,299.40 L247.72,299.21 L248.22,299.01 L248.72,298.82 L249.22,298.62 L249.72,298.42 L250.22,298.22 L250.72,298.01 L251.22,297.80 L251.72,297.59 L252.22,297.38 L252.72,297.16 L253.22,296.95 L253.72,296.73 L254.22,296.51 L254.72,296.28 L255.21,296.05 L255.71,295.83 L256.21,295.59 L256.71,295.36 L257.21,295.13 L257.71,294.89 L258.21,294.65 L258.71,294.41 L259.21,294.16 L259.71,293.92 L260.21,293.67 L260.71,293.42 L261.21,293.17 L261.71,292.91 L262.21,292.66 L262.70,292.40 L263.20,292.14 L263.70,291.88 L264.20,291.61 L264.70,291.35 L265.20,291.08 L265.70,290.81 L266.20,290.54 L266.70,290.27 L267.20,290.00 L267.70,289.72 L268.20,289.44 L268.70,289.16 L269.20,288.88 L269.70,288.60 L270.19,288.32 L270.69,288.04 L271.19,287.75 L271.69,287.46 L272.19,287.17 L272.69,286.88 L273.19,286.59 L273.69,286.30 L274.19,286.01 L274.69,285.71 L275.19,285.42 L275.69,285.12 L276.19,284.83 L276.69,284.53 L277.19,284.23 L277.68,283.93 L278.18,283.63 L278.68,283.33 L279.18,283.02 L279.68,282.72 L280.18,282.42 L280.68,282.11 L281.18,281.81 L281.68,281.50 L282.18,281.20 L282.68,280.89 L283.18,280.58 L283.68,280.28 L284.18,279.97 L284.68,279.66 L285.17,279.36 L285.67,279.05 L286.17,278.74 L286.67,278.43 L287.17,278.12 L287.67,277.82 L288.17,277.51 L288.67,277.20 L289.17,276.90 L289.67,276.59 L290.17,276.28 L290.67,275.98 L291.17,275.67 L291.67,275.37 L292.17,275.06 L292.66,274.76 L293.16,274.46 L293.66,274.15 L294.16,273.85 L294.66,273.55 L295.16,273.25 L295.66,272.96 L296.16,272.66 L296.66,272.36 L297.16,272.07 L297.66,271.77 L298.16,271.48 L298.66,271.19 L299.16,270.90 L299.66,270.61 L300.15,270.33 L300.65,270.04 L301.15,269.76 L301.65,269.48 L302.15,269.20 L302.65,268.92 L303.15,268.64 L303.65,268.37 L304.15,268.10 L304.65,267.83 L305.15,267.56 L305.65,267.30 L306.15,267.04 L306.65,266.78 L307.14,266.52 L307.64,266.26 L308.14,266.01 L308.64,265.76 L309.14,265.51 L309.64,265.27 L310.14,265.03 L310.64,264.79 L311.14,264.55 L311.64,264.32 L312.14,264.09 L312.64,263.87 L313.14,263.64 L313.64,263.43 L314.14,263.21 L314.63,263.00 L315.13,262.79 L315.63,262.58 L316.13,262.38 L316.63,262.18 L317.13,261.99 L317.63,261.80 L318.13,261.61 L318.63,261.43 L319.13,261.25 L319.63,261.08 L320.13,260.90 L320.63,260.74 L321.13,260.58 L321.63,260.42 L322.12,260.27 L322.62,260.12 L323.12,259.97 L323.62,259.83 L324.12,259.70 L324.62,259.57 L325.12,259.44 L325.62,259.32 L326.12,259.20 L326.62,259.09 L327.12,258.98 L327.62,258.88 L328.12,258.78 L328.62,258.69 L329.12,258.61 L329.61,258.52 L330.11,258.45 L330.61,258.37 L331.11,258.31 L331.61,258.25 L332.11,258.19 L332.61,258.14 L333.11,258.10 L333.61,258.06 L334.11,258.02 L334.61,257.99 L335.11,257.97 L335.61,257.95 L336.11,257.94 L336.61,257.93 L337.10,257.93 L337.60,257.93 L338.10,257.94 L338.60,257.96 L339.10,257.98 L339.60,258.00 L340.10,258.04 L340.60,258.07 L341.10,258.12 L341.60,258.17 L342.10,258.22 L342.60,258.28 L343.10,258.35 L343.60,258.42 L344.10,258.50 L344.59,258.58 L345.09,258.67 L345.59,258.77 L346.09,258.87 L346.59,258.97 L347.09,259.09 L347.59,259.20 L348.09,259.33 L348.59,259.46 L349.09,259.59 L349.59,259.73 L350.09,259.88 L350.59,260.03 L351.09,260.19 L351.59,260.35 L352.08,260.52 L352.58,260.69 L353.08,260.87 L353.58,261.06 L354.08,261.25 L354.58,261.44 L355.08,261.64 L355.58,261.85 L356.08,262.06 L356.58,262.28 L357.08,262.50 L357.58,262.73 L358.08,262.96 L358.58,263.20 L359.08,263.44 L359.57,263.69 L360.07,263.94 L360.57,264.20 L361.07,264.46 L361.57,264.73 L362.07,265.00 L362.57,265.28 L363.07,265.56 L363.57,265.85 L364.07,266.14 L364.57,266.44 L365.07,266.74 L365.57,267.04 L366.07,267.35 L366.57,267.67 L367.06,267.99 L367.56,268.31 L368.06,268.64 L368.56,268.97 L369.06,269.30 L369.56,269.64 L370.06,269.98 L370.56,270.33 L371.06,270.68 L371.56,271.03 L372.06,271.39 L372.56,271.75 L373.06,272.12 L373.56,272.49 L374.06,272.86 L374.55,273.24 L375.05,273.62 L375.55,274.00 L376.05,274.38 L376.55,274.77 L377.05,275.16 L377.55,275.56 L378.05,275.96 L378.55,276.36 L379.05,276.76 L379.55,277.17 L380.05,277.57 L380.55,277.99 L381.05,278.40 L381.54,278.81 L382.04,279.23 L382.54,279.65 L383.04,280.08 L383.54,280.50 L384.04,280.93 L384.54,281.36 L385.04,281.79 L385.54,282.22 L386.04,282.66 L386.54,283.10 L387.04,283.54 L387.54,283.98 L388.04,284.42 L388.54,284.86 L389.03,285.31 L389.53,285.75 L390.03,286.20 L390.53,286.65 L391.03,287.10 L391.53,287.55 L392.03,288.00 L392.53,288.46 L393.03,288.91 L393.53,289.37 L394.03,289.82 L394.53,290.28 L395.03,290.74 L395.53,291.19 L396.03,291.65 L396.52,292.11 L397.02,292.57 L397.52,293.03 L398.02,293.49 L398.52,293.95 L399.02,294.42 L399.52,294.88 L400.02,295.34 L400.52,295.80 L401.02,296.26 L401.52,296.72 L402.02,297.18 L402.52,297.65 L403.02,298.11 L403.52,298.57 L404.01,299.03 L404.51,299.49 L405.01,299.95 L405.51,300.41 L406.01,300.87 L406.51,301.32 L407.01,301.78 L407.51,302.24 L408.01,302.70 L408.51,303.15 L409.01,303.61 L409.51,304.06 L410.01,304.52 L410.51,304.97 L411.01,305.42 L411.50,305.87 L412.00,306.32 L412.50,306.77 L413.00,307.22 L413.50,307.67 L414.00,308.11 L414.50,308.56 L415.00,309.00 L415.50,309.44 L416.00,309.88 L416.50,310.32 L417.00,310.76 L417.50,311.20 L418.00,311.63 L418.50,312.06 L418.99,312.50 L419.49,312.93 L419.99,313.36 L420.49,313.78 L420.99,314.21 L421.49,314.64 L421.99,315.06 L422.49,315.48 L422.99,315.90 L423.49,316.32 L423.99,316.73 L424.49,317.15 L424.99,317.56 L425.49,317.97 L425.99,318.38 L426.48,318.79 L426.98,319.19 L427.48,319.59 L427.98,320.00 L428.48,320.40 L428.98,320.79 L429.48,321.19 L429.98,321.58 L430.48,321.97 L430.98,322.36 L431.48,322.75 L431.98,323.13 L432.48,323.52 L432.98,323.90 L433.48,324.28 L433.97,324.65 L434.47,325.03 L434.97,325.40 L435.47,325.77 L435.97,326.14 L436.47,326.51 L436.97,326.87 L437.47,327.23 L437.97,327.59 L438.47,327.95 L438.97,328.30 L439.47,328.65 L439.97,329.00 L440.47,329.35 L440.97,329.70 L441.46,330.04 L441.96,330.38 L442.46,330.72 L442.96,331.06 L443.46,331.39 L443.96,331.72 L444.46,332.05 L444.96,332.38 L445.46,332.70 L445.96,333.02 L446.46,333.34 L446.96,333.66 L447.46,333.97 L447.96,334.29 L448.46,334.60 L448.95,334.90 L449.45,335.21 L449.95,335.51 L450.45,335.81 L450.95,336.11 L451.45,336.40 L451.95,336.70 L452.45,336.99 L452.95,337.27 L453.45,337.56 L453.95,337.84 L454.45,338.12 L454.95,338.40 L455.45,338.67 L455.94,338.95 L456.44,339.22 L456.94,339.49 L457.44,339.75 L457.94,340.01 L458.44,340.27 L458.94,340.53 L459.44,340.79 L459.94,341.04 L460.44,341.29 L460.94,341.54 L461.44,341.78 L461.94,342.03 L462.44,342.27 L462.94,342.50 L463.43,342.74 L463.93,342.97 L464.43,343.20 L464.93,343.43 L465.43,343.66 L465.93,343.88 L466.43,344.10 L466.93,344.32 L467.43,344.53 L467.93,344.74 L468.43,344.95 L468.93,345.16 L469.43,345.37 L469.93,345.57 L470.43,345.77 L470.92,345.97 L471.42,346.16 L471.92,346.35 L472.42,346.54 L472.92,346.73 L473.42,346.92 L473.92,347.10 L474.42,347.28 L474.92,347.45 L475.42,347.63 L475.92,347.80 L476.42,347.97 L476.92,348.14 L477.42,348.30 L477.92,348.47 L478.41,348.62 L478.91,348.78 L479.41,348.94 L479.91,349.09 L480.41,349.24 L480.91,349.38 L481.41,349.53 L481.91,349.67 L482.41,349.81 L482.91,349.95 L483.41,350.08 L483.91,350.21 L484.41,350.34 L484.91,350.47 L485.41,350.59 L485.90,350.71 L486.40,350.83 L486.90,350.95 L487.40,351.06 L487.90,351.18 L488.40,351.28 L488.90,351.39 L489.40,351.49 L489.90,351.60 L490.40,351.70 L490.90,351.79 L491.40,351.89 L491.90,351.98 L492.40,352.06 L492.90,352.15 L493.39,352.23 L493.89,352.32 L494.39,352.39 L494.89,352.47 L495.39,352.54 L495.89,352.61 L496.39,352.68 L496.89,352.75 L497.39,352.81 L497.89,352.87 L498.39,352.93 L498.89,352.99 L499.39,353.04 L499.89,353.09 L500.39,353.14 L500.88,353.18 L501.38,353.22 L501.88,353.26 L502.38,353.30 L502.88,353.34 L503.38,353.37 L503.88,353.40 L504.38,353.43 L504.88,353.45 L505.38,353.47 L505.88,353.49 L506.38,353.51 L506.88,353.52 L507.38,353.53 L507.88,353.54 L508.37,353.55 L508.87,353.55 L509.37,353.55 L509.87,353.55 L510.37,353.54 L510.87,353.54 L511.37,353.53 L511.87,353.52 L512.37,353.50 L512.87,353.48 L513.37,353.46 L513.87,353.44 L514.37,353.41 L514.87,353.38 L515.37,353.35 L515.86,353.32 L516.36,353.28 L516.86,353.24 L517.36,353.20 L517.86,353.15 L518.36,353.11 L518.86,353.06 L519.36,353.00 L519.86,352.95 L520.36,352.89 L520.86,352.83 L521.36,352.76 L521.86,352.69 L522.36,352.62 L522.86,352.55 L523.35,352.47 L523.85,352.40 L524.35,352.31 L524.85,352.23 L525.35,352.14 L525.85,352.05 L526.35,351.96 L526.85,351.86 L527.35,351.76 L527.85,351.66 L528.35,351.56 L528.85,351.45 L529.35,351.34 L529.85,351.22 L530.34,351.11 L530.84,350.99 L531.34,350.87 L531.84,350.74 L532.34,350.61 L532.84,350.48 L533.34,350.34 L533.84,350.21 L534.34,350.06 L534.84,349.92 L535.34,349.77 L535.84,349.62 L536.34,349.47 L536.84,349.31 L537.34,349.15 L537.83,348.99 L538.33,348.82 L538.83,348.65 L539.33,348.48 L539.83,348.30 L540.33,348.12 L540.83,347.94 L541.33,347.75 L541.83,347.57 L542.33,347.37 L542.83,347.18 L543.33,346.98 L543.83,346.77 L544.33,346.57 L544.83,346.36 L545.32,346.14 L545.82,345.93 L546.32,345.71 L546.82,345.48 L547.32,345.26 L547.82,345.03 L548.32,344.79 L548.82,344.55 L549.32,344.31 L549.82,344.07 L550.32,343.82 L550.82,343.57 L551.32,343.31 L551.82,343.05 L552.32,342.79 L552.81,342.52 L553.31,342.25 L553.81,341.97 L554.31,341.69 L554.81,341.41 L555.31,341.12 L555.81,340.83 L556.31,340.54 L556.81,340.24 L557.31,339.94 L557.81,339.63 L558.31,339.32 L558.81,339.00 L559.31,338.68 L559.81,338.36 L560.30,338.03 L560.80,337.70 L561.30,337.37 L561.80,337.03 L562.30,336.68 L562.80,336.33 L563.30,335.98 L563.80,335.62 L564.30,335.26 L564.80,334.90 L565.30,334.53 L565.80,334.15 L566.30,333.77 L566.80,333.39 L567.30,333.00 L567.79,332.60 L568.29,332.21 L568.79,331.80 L569.29,331.40 L569.79,330.98 L570.29,330.57 L570.79,330.14 L571.29,329.72 L571.79,329.29 L572.29,328.85 L572.79,328.41 L573.29,327.96 L573.79,327.51 L574.29,327.05 L574.79,326.59 L575.28,326.12 L575.78,325.65 L576.28,325.17 L576.78,324.69 L577.28,324.20 L577.78,323.71 L578.28,323.21 L578.78,322.70 L579.28,322.19 L579.78,321.68 L580.28,321.16 L580.78,320.63 L581.28,320.10 L581.78,319.56 L582.28,319.01 L582.77,318.46 L583.27,317.91 L583.77,317.35 L584.27,316.78 L584.77,316.20 L585.27,315.62 L585.77,315.04 L586.27,314.45 L586.77,313.85 L587.27,313.24 L587.77,312.63 L588.27,312.01 L588.77,311.39 L589.27,310.76 L589.77,310.12 L590.26,309.48 L590.76,308.83 L591.26,308.17 L591.76,307.51 L592.26,306.84 L592.76,306.16 L593.26,305.48 L593.76,304.79 L594.26,304.09 L594.76,303.38 L595.26,302.67 L595.76,301.95 L596.26,301.22 L596.76,300.49 L597.26,299.75 L597.75,299.00 L598.25,298.24 L598.75,297.48 L599.25,296.71 L599.75,295.93 L600.25,295.14 L600.75,294.35 L601.25,293.54 L601.75,292.73 L602.25,291.92 L602.75,291.09 L603.25,290.25 L603.75,289.41 L604.25,288.56 L604.74,287.70 L605.24,286.83 L605.74,285.96 L606.24,285.07 L606.74,284.18 L607.24,283.28 L607.74,282.37 L608.24,281.45 L608.74,280.52 L609.24,279.59 L609.74,278.64 L610.24,277.68 L610.74,276.72 L611.24,275.75 L611.74,274.77 L612.23,273.78 L612.73,272.77 L613.23,271.76 L613.73,270.75 L614.23,269.72 L614.73,268.68 L615.23,267.63 L615.73,266.57 L616.23,265.50 L616.73,264.43 L617.23,263.34 L617.73,262.24 L618.23,261.14 L618.73,260.02 L619.23,258.89 L619.72,257.75 L620.22,256.61 L620.72,255.45 L621.22,254.28 L621.72,253.10 L622.22,251.91 L622.72,250.71 L623.22,249.50 L623.72,248.28 L624.22,247.05 L624.72,245.80 L625.22,244.55 L625.72,243.29 L626.22,242.01 L626.72,240.73 L627.21,239.43 L627.71,238.12 L628.21,236.80 L628.71,235.47 L629.21,234.13 L629.71,232.78 L630.21,231.41 L630.71,230.04 L631.21,228.65 L631.71,227.25 L632.21,225.84 L632.71,224.42 L633.21,222.99 L633.71,221.55 L634.21,220.09 L634.70,218.63 L635.20,217.15 L635.70,215.66 L636.20,214.16 L636.70,212.65 L637.20,211.13 L637.70,209.59 L638.20,208.05 L638.70,206.49 L639.20,204.92 L639.70,203.34 L640.20,201.75 L640.70,200.14 L641.20,198.53 L641.70,196.90 L642.19,195.27 L642.69,193.62 L643.19,191.96 L643.69,190.29 L644.19,188.61 L644.69,186.91 L645.19,185.21 M777.01,185.70 L777.51,187.10 L778.01,188.48 L778.51,189.85 L779.01,191.22 L779.51,192.57 L780.01,193.91 L780.51,195.25 L781.01,196.57 L781.51,197.88 L782.01,199.18 L782.51,200.47 L783.01,201.75 L783.50,203.02 L784.00,204.28 L784.50,205.53 L785.00,206.77 L785.50,208.00 L786.00,209.22 L786.50,210.43 L787.00,211.63" stroke="#111" stroke-width="1.15"/>
<path d="M108.91,184.89 L109.41,186.30 L109.91,187.71 L110.41,189.12 L110.91,190.53 L111.41,191.94 L111.91,193.35 L112.41,194.77 L112.91,196.18 L113.41,197.59 L113.90,198.99 L114.40,200.40 L114.90,201.81 L115.40,203.22 L115.90,204.62 L116.40,206.02 L116.90,207.43 L117.40,208.83 L117.90,210.23 L118.40,211.62 L118.90,213.02 L119.40,214.41 L119.90,215.80 L120.40,217.19 L120.90,218.58 L121.39,219.97 L121.89,221.35 L122.39,222.73 L122.89,224.10 L123.39,225.48 L123.89,226.85 L124.39,228.22 L124.89,229.58 L125.39,230.94 L125.89,232.30 L126.39,233.65 L126.89,235.00 L127.39,236.35 L127.89,237.69 L128.39,239.03 L128.88,240.37 L129.38,241.70 L129.88,243.03 L130.38,244.35 L130.88,245.67 L131.38,246.98 L131.88,248.29 L132.38,249.60 L132.88,250.90 L133.38,252.20 L133.88,253.49 L134.38,254.77 L134.88,256.06 L135.38,257.33 L135.88,258.60 L136.37,259.87 L136.87,261.13 L137.37,262.38 L137.87,263.63 L138.37,264.88 L138.87,266.12 L139.37,267.35 L139.87,268.58 L140.37,269.80 L140.87,271.01 L141.37,272.22 L141.87,273.43 L142.37,274.63 L142.87,275.82 L143.37,277.00 L143.86,278.18 L144.36,279.35 L144.86,280.52 L145.36,281.68 L145.86,282.83 L146.36,283.98 L146.86,285.12 L147.36,286.25 L147.86,287.38 L148.36,288.50 L148.86,289.61 L149.36,290.72 L149.86,291.81 L150.36,292.91 L150.86,293.99 L151.35,295.07 L151.85,296.14 L152.35,297.20 L152.85,298.26 L153.35,299.31 L153.85,300.35 L154.35,301.38 L154.85,302.41 L155.35,303.43 L155.85,304.44 L156.35,305.45 L156.85,306.44 L157.35,307.43 L157.85,308.41 L158.34,309.39 L158.84,310.35 L159.34,311.31 L159.84,312.26 L160.34,313.20 L160.84,314.14 L161.34,315.06 L161.84,315.98 L162.34,316.89 L162.84,317.80 L163.34,318.69 L163.84,319.58 L164.34,320.46 L164.84,321.33 L165.34,322.19 L165.83,323.04 L166.33,323.89 L166.83,324.73 L167.33,325.55 L167.83,326.38 L168.33,327.19 L168.83,327.99 L169.33,328.79 L169.83,329.58 L170.33,330.36 L170.83,331.13 L171.33,331.89 L171.83,332.64 L172.33,333.39 L172.83,334.13 L173.32,334.85 L173.82,335.57 L174.32,336.29 L174.82,336.99 L175.32,337.68 L175.82,338.37 L176.32,339.05 L176.82,339.72 L177.32,340.38 L177.82,341.03 L178.32,341.67 L178.82,342.31 L179.32,342.93 L179.82,343.55 L180.32,344.16 L180.81,344.76 L181.31,345.35 L181.81,345.93 L182.31,346.51 L182.81,347.07 L183.31,347.63 L183.81,348.17 L184.31,348.71 L184.81,349.24 L185.31,349.77 L185.81,350.28 L186.31,350.78 L186.81,351.28 L187.31,351.77 L187.81,352.25 L188.30,352.72 L188.80,353.18 L189.30,353.63 L189.80,354.07 L190.30,354.51 L190.80,354.93 L191.30,355.35 L191.80,355.76 L192.30,356.16 L192.80,356.55 L193.30,356.94 L193.80,357.31 L194.30,357.68 L194.80,358.04 L195.30,358.38 L195.79,358.73 L196.29,359.06 L196.79,359.38 L197.29,359.69 L197.79,360.00 L198.29,360.30 L198.79,360.59 L199.29,360.87 L199.79,361.14 L200.29,361.40 L200.79,361.66 L201.29,361.91 L201.79,362.14 L202.29,362.37 L202.79,362.59 L203.28,362.81 L203.78,363.01 L204.28,363.21 L204.78,363.40 L205.28,363.58 L205.78,363.75 L206.28,363.91 L206.78,364.07 L207.28,364.21 L207.78,364.35 L208.28,364.48 L208.78,364.60 L209.28,364.72 L209.78,364.82 L210.28,364.92 L210.77,365.01 L211.27,365.09 L211.77,365.17 L212.27,365.23 L212.77,365.29 L213.27,365.34 L213.77,365.38 L214.27,365.42 L214.77,365.44 L215.27,365.46 L215.77,365.47 L216.27,365.48 L216.77,365.47 L217.27,365.46 L217.77,365.44 L218.26,365.41 L218.76,365.38 L219.26,365.33 L219.76,365.28 L220.26,365.22 L220.76,365.16 L221.26,365.09 L221.76,365.01 L222.26,364.92 L222.76,364.82 L223.26,364.72 L223.76,364.61 L224.26,364.49 L224.76,364.37 L225.26,364.24 L225.75,364.10 L226.25,363.96 L226.75,363.80 L227.25,363.65 L227.75,363.48 L228.25,363.31 L228.75,363.13 L229.25,362.94 L229.75,362.75 L230.25,362.55 L230.75,362.34 L231.25,362.13 L231.75,361.91 L232.25,361.68 L232.74,361.45 L233.24,361.21 L233.74,360.96 L234.24,360.71 L234.74,360.45 L235.24,360.19 L235.74,359.91 L236.24,359.64 L236.74,359.35 L237.24,359.06 L237.74,358.77 L238.24,358.47 L238.74,358.16 L239.24,357.85 L239.74,357.53 L240.23,357.20 L240.73,356.87 L241.23,356.54 L241.73,356.20 L242.23,355.85 L242.73,355.50 L243.23,355.14 L243.73,354.78 L244.23,354.41 L244.73,354.03 L245.23,353.65 L245.73,353.27 L246.23,352.88 L246.73,352.49 L247.23,352.09 L247.72,351.68 L248.22,351.27 L248.72,350.86 L249.22,350.44 L249.72,350.02 L250.22,349.59 L250.72,349.16 L251.22,348.72 L251.72,348.28 L252.22,347.84 L252.72,347.39 L253.22,346.93 L253.72,346.48 L254.22,346.02 L254.72,345.55 L255.21,345.08 L255.71,344.61 L256.21,344.13 L256.71,343.65 L257.21,343.17 L257.71,342.68 L258.21,342.19 L258.71,341.69 L259.21,341.19 L259.71,340.69 L260.21,340.19 L260.71,339.68 L261.21,339.17 L261.71,338.65 L262.21,338.14 L262.70,337.62 L263.20,337.10 L263.70,336.57 L264.20,336.04 L264.70,335.51 L265.20,334.98 L265.70,334.45 L266.20,333.91 L266.70,333.37 L267.20,332.83 L267.70,332.29 L268.20,331.74 L268.70,331.19 L269.20,330.65 L269.70,330.09 L270.19,329.54 L270.69,328.99 L271.19,328.43 L271.69,327.88 L272.19,327.32 L272.69,326.76 L273.19,326.20 L273.69,325.64 L274.19,325.08 L274.69,324.51 L275.19,323.95 L275.69,323.39 L276.19,322.82 L276.69,322.25 L277.19,321.69 L277.68,321.12 L278.18,320.55 L278.68,319.99 L279.18,319.42 L279.68,318.85 L280.18,318.29 L280.68,317.72 L281.18,317.15 L281.68,316.59 L282.18,316.02 L282.68,315.46 L283.18,314.89 L283.68,314.33 L284.18,313.77 L284.68,313.20 L285.17,312.64 L285.67,312.08 L286.17,311.52 L286.67,310.96 L287.17,310.41 L287.67,309.85 L288.17,309.30 L288.67,308.75 L289.17,308.20 L289.67,307.65 L290.17,307.10 L290.67,306.56 L291.17,306.02 L291.67,305.48 L292.17,304.94 L292.66,304.40 L293.16,303.87 L293.66,303.34 L294.16,302.81 L294.66,302.29 L295.16,301.76 L295.66,301.24 L296.16,300.73 L296.66,300.21 L297.16,299.70 L297.66,299.20 L298.16,298.69 L298.66,298.19 L299.16,297.70 L299.66,297.20 L300.15,296.71 L300.65,296.23 L301.15,295.74 L301.65,295.27 L302.15,294.79 L302.65,294.32 L303.15,293.86 L303.65,293.40 L304.15,292.94 L304.65,292.49 L305.15,292.04 L305.65,291.60 L306.15,291.16 L306.65,290.72 L307.14,290.30 L307.64,289.87 L308.14,289.45 L308.64,289.04 L309.14,288.63 L309.64,288.23 L310.14,287.83 L310.64,287.44 L311.14,287.06 L311.64,286.67 L312.14,286.30 L312.64,285.93 L313.14,285.57 L313.64,285.21 L314.14,284.86 L314.63,284.52 L315.13,284.18 L315.63,283.84 L316.13,283.52 L316.63,283.20 L317.13,282.89 L317.63,282.58 L318.13,282.28 L318.63,281.99 L319.13,281.70 L319.63,281.42 L320.13,281.15 L320.63,280.88 L321.13,280.62 L321.63,280.37 L322.12,280.13 L322.62,279.89 L323.12,279.66 L323.62,279.44 L324.12,279.23 L324.62,279.02 L325.12,278.82 L325.62,278.63 L326.12,278.44 L326.62,278.27 L327.12,278.10 L327.62,277.94 L328.12,277.78 L328.62,277.64 L329.12,277.50 L329.61,277.37 L330.11,277.25 L330.61,277.14 L331.11,277.03 L331.61,276.94 L332.11,276.85 L332.61,276.77 L333.11,276.70 L333.61,276.64 L334.11,276.58 L334.61,276.54 L335.11,276.50 L335.61,276.47 L336.11,276.45 L336.61,276.44 L337.10,276.44 L337.60,276.45 L338.10,276.46 L338.60,276.48 L339.10,276.52 L339.60,276.56 L340.10,276.61 L340.60,276.67 L341.10,276.74 L341.60,276.81 L342.10,276.90 L342.60,276.99 L343.10,277.10 L343.60,277.21 L344.10,277.33 L344.59,277.47 L345.09,277.61 L345.59,277.76 L346.09,277.91 L346.59,278.08 L347.09,278.26 L347.59,278.44 L348.09,278.64 L348.59,278.84 L349.09,279.06 L349.59,279.28 L350.09,279.51 L350.59,279.75 L351.09,280.00 L351.59,280.26 L352.08,280.53 L352.58,280.81 L353.08,281.09 L353.58,281.39 L354.08,281.69 L354.58,282.01 L355.08,282.33 L355.58,282.66 L356.08,283.00 L356.58,283.35 L357.08,283.71 L357.58,284.08 L358.08,284.46 L358.58,284.84 L359.08,285.24 L359.57,285.64 L360.07,286.05 L360.57,286.48 L361.07,286.91 L361.57,287.35 L362.07,287.79 L362.57,288.25 L363.07,288.72 L363.57,289.19 L364.07,289.67 L364.57,290.16 L365.07,290.66 L365.57,291.17 L366.07,291.69 L366.57,292.22 L367.06,292.75 L367.56,293.29 L368.06,293.84 L368.56,294.40 L369.06,294.97 L369.56,295.54 L370.06,296.13 L370.56,296.72 L371.06,297.32 L371.56,297.92 L372.06,298.54 L372.56,299.16 L373.06,299.79 L373.56,300.43 L374.06,301.08 L374.55,301.73 L375.05,302.40 L375.55,303.06 L376.05,303.74 L376.55,304.43 L377.05,305.12 L377.55,305.82 L378.05,306.52 L378.55,307.23 L379.05,307.95 L379.55,308.68 L380.05,309.42 L380.55,310.16 L381.05,310.90 L381.54,311.66 L382.04,312.42 L382.54,313.19 L383.04,313.96 L383.54,314.74 L384.04,315.53 L384.54,316.32 L385.04,317.12 L385.54,317.93 L386.04,318.74 L386.54,319.56 L387.04,320.38 L387.54,321.21 L388.04,322.05 L388.54,322.89 L389.03,323.73 L389.53,324.59 L390.03,325.44 L390.53,326.31 L391.03,327.17 L391.53,328.05 L392.03,328.93 L392.53,329.81 L393.03,330.70 L393.53,331.59 L394.03,332.49 L394.53,333.39 L395.03,334.30 L395.53,335.21 L396.03,336.13 L396.52,337.05 L397.02,337.97 L397.52,338.90 L398.02,339.83 L398.52,340.77 L399.02,341.71 L399.52,342.65 L400.02,343.60 L400.52,344.55 L401.02,345.51 L401.52,346.47 L402.02,347.43 L402.52,348.39 L403.02,349.36 L403.52,350.33 L404.01,351.31 L404.51,352.28 L405.01,353.26 L405.51,354.25 L406.01,355.23 L406.51,356.22 L407.01,357.21 L407.51,358.20 L408.01,359.20 L408.51,360.19 L409.01,361.19 L409.51,362.19 L410.01,363.20 L410.51,364.20 L411.01,365.21 L411.50,366.21 L412.00,367.22 L412.50,368.23 L413.00,369.25 L413.50,370.26 L414.00,371.27 L414.50,372.29 L415.00,373.31 L415.50,374.32 L416.00,375.34 L416.50,376.36 L417.00,377.38 L417.50,378.40 L418.00,379.42 L418.50,380.44 L418.99,381.46 L419.49,382.48 L419.99,383.50 L420.49,384.52 L420.99,385.54 L421.49,386.57 L421.99,387.59 L422.49,388.61 L422.99,389.63 L423.49,390.64 L423.99,391.66 L424.49,392.68 L424.99,393.70 L425.49,394.71 L425.99,395.73 L426.48,396.74 L426.98,397.75 L427.48,398.77 L427.98,399.78 L428.48,400.78 L428.98,401.79 L429.48,402.80 L429.98,403.80 L430.48,404.80 L430.98,405.80 L431.48,406.80 L431.98,407.80 L432.48,408.79 L432.98,409.79 L433.48,410.78 L433.97,411.76 L434.47,412.75 L434.97,413.73 L435.47,414.71 L435.97,415.69 L436.47,416.67 L436.97,417.64 L437.47,418.61 L437.97,419.57 L438.47,420.54 L438.97,421.50 L439.47,422.46 L439.97,423.41 L440.47,424.36 L440.97,425.31 L441.46,426.25 L441.96,427.19 L442.46,428.13 L442.96,429.06 L443.46,429.99 L443.96,430.92 L444.46,431.84 L444.96,432.76 L445.46,433.68 L445.96,434.59 L446.46,435.49 L446.96,436.39 L447.46,437.29 L447.96,438.18 L448.46,439.07 L448.95,439.96 L449.45,440.84 L449.95,441.71 L450.45,442.58 L450.95,443.45 L451.45,444.31 L451.95,445.17 L452.45,446.02 L452.95,446.87 L453.45,447.71 L453.95,448.54 L454.45,449.37 L454.95,450.20 L455.45,451.02 L455.94,451.84 L456.44,452.65 L456.94,453.45 L457.44,454.25 L457.94,455.04 L458.44,455.83 L458.94,456.61 L459.44,457.39 L459.94,458.16 L460.44,458.93 L460.94,459.69 L461.44,460.44 L461.94,461.19 L462.44,461.93 L462.94,462.66 L463.43,463.39 L463.93,464.12 L464.43,464.83 L464.93,465.54 L465.43,466.25 L465.93,466.95 L466.43,467.64 L466.93,468.32 L467.43,469.00 L467.93,469.67 L468.43,470.34 L468.93,471.00 L469.43,471.65 L469.93,472.29 L470.43,472.93 L470.92,473.56 L471.42,474.19 L471.92,474.80 L472.42,475.42 L472.92,476.02 L473.42,476.62 L473.92,477.20 L474.42,477.79 L474.92,478.36 L475.42,478.93 L475.92,479.49 L476.42,480.04 L476.92,480.59 L477.42,481.13 L477.92,481.66 L478.41,482.18 L478.91,482.70 L479.41,483.21 L479.91,483.71 L480.41,484.20 L480.91,484.69 L481.41,485.17 L481.91,485.64 L482.41,486.10 L482.91,486.56 L483.41,487.01 L483.91,487.45 L484.41,487.88 L484.91,488.30 L485.41,488.72 L485.90,489.12 L486.40,489.52 L486.90,489.92 L487.40,490.30 L487.90,490.68 L488.40,491.04 L488.90,491.40 L489.40,491.75 L489.90,492.10 L490.40,492.43 L490.90,492.76 L491.40,493.07 L491.90,493.38 L492.40,493.69 L492.90,493.98 L493.39,494.26 L493.89,494.54 L494.39,494.81 L494.89,495.07 L495.39,495.32 L495.89,495.56 L496.39,495.79 L496.89,496.02 L497.39,496.23 L497.89,496.44 L498.39,496.64 L498.89,496.83 L499.39,497.01 L499.89,497.19 L500.39,497.35 L500.88,497.50 L501.38,497.65 L501.88,497.79 L502.38,497.92 L502.88,498.04 L503.38,498.15 L503.88,498.25 L504.38,498.34 L504.88,498.43 L505.38,498.50 L505.88,498.57 L506.38,498.63 L506.88,498.67 L507.38,498.71 L507.88,498.74 L508.37,498.76 L508.87,498.78 L509.37,498.78 L509.87,498.77 L510.37,498.76 L510.87,498.73 L511.37,498.70 L511.87,498.65 L512.37,498.60 L512.87,498.54 L513.37,498.47 L513.87,498.39 L514.37,498.30 L514.87,498.20 L515.37,498.09 L515.86,497.97 L516.36,497.85 L516.86,497.71 L517.36,497.57 L517.86,497.41 L518.36,497.25 L518.86,497.07 L519.36,496.89 L519.86,496.70 L520.36,496.49 L520.86,496.28 L521.36,496.06 L521.86,495.83 L522.36,495.59 L522.86,495.34 L523.35,495.08 L523.85,494.81 L524.35,494.53 L524.85,494.25 L525.35,493.95 L525.85,493.64 L526.35,493.33 L526.85,493.00 L527.35,492.66 L527.85,492.32 L528.35,491.96 L528.85,491.60 L529.35,491.22 L529.85,490.84 L530.34,490.45 L530.84,490.04 L531.34,489.63 L531.84,489.21 L532.34,488.78 L532.84,488.33 L533.34,487.88 L533.84,487.42 L534.34,486.95 L534.84,486.47 L535.34,485.98 L535.84,485.48 L536.34,484.97 L536.84,484.45 L537.34,483.92 L537.83,483.38 L538.33,482.83 L538.83,482.28 L539.33,481.71 L539.83,481.13 L540.33,480.54 L540.83,479.95 L541.33,479.34 L541.83,478.72 L542.33,478.10 L542.83,477.46 L543.33,476.81 L543.83,476.16 L544.33,475.49 L544.83,474.82 L545.32,474.13 L545.82,473.44 L546.32,472.74 L546.82,472.02 L547.32,471.30 L547.82,470.57 L548.32,469.82 L548.82,469.07 L549.32,468.31 L549.82,467.54 L550.32,466.76 L550.82,465.96 L551.32,465.16 L551.82,464.35 L552.32,463.53 L552.81,462.70 L553.31,461.87 L553.81,461.02 L554.31,460.16 L554.81,459.29 L555.31,458.41 L555.81,457.53 L556.31,456.63 L556.81,455.72 L557.31,454.81 L557.81,453.88 L558.31,452.95 L558.81,452.00 L559.31,451.05 L559.81,450.09 L560.30,449.11 L560.80,448.13 L561.30,447.14 L561.80,446.14 L562.30,445.13 L562.80,444.11 L563.30,443.08 L563.80,442.04 L564.30,441.00 L564.80,439.94 L565.30,438.87 L565.80,437.80 L566.30,436.71 L566.80,435.62 L567.30,434.52 L567.79,433.40 L568.29,432.28 L568.79,431.15 L569.29,430.01 L569.79,428.87 L570.29,427.71 L570.79,426.54 L571.29,425.37 L571.79,424.18 L572.29,422.99 L572.79,421.79 L573.29,420.58 L573.79,419.36 L574.29,418.13 L574.79,416.89 L575.28,415.65 L575.78,414.39 L576.28,413.13 L576.78,411.86 L577.28,410.58 L577.78,409.29 L578.28,407.99 L578.78,406.68 L579.28,405.37 L579.78,404.05 L580.28,402.72 L580.78,401.38 L581.28,400.03 L581.78,398.67 L582.28,397.31 L582.77,395.94 L583.27,394.56 L583.77,393.17 L584.27,391.77 L584.77,390.37 L585.27,388.96 L585.77,387.54 L586.27,386.11 L586.77,384.67 L587.27,383.23 L587.77,381.78 L588.27,380.32 L588.77,378.86 L589.27,377.38 L589.77,375.90 L590.26,374.41 L590.76,372.92 L591.26,371.41 L591.76,369.90 L592.26,368.39 L592.76,366.86 L593.26,365.33 L593.76,363.79 L594.26,362.25 L594.76,360.70 L595.26,359.14 L595.76,357.57 L596.26,356.00 L596.76,354.42 L597.26,352.84 L597.75,351.25 L598.25,349.65 L598.75,348.05 L599.25,346.44 L599.75,344.82 L600.25,343.20 L600.75,341.57 L601.25,339.94 L601.75,338.30 L602.25,336.65 L602.75,335.00 L603.25,333.34 L603.75,331.68 L604.25,330.01 L604.74,328.34 L605.24,326.66 L605.74,324.98 L606.24,323.29 L606.74,321.60 L607.24,319.90 L607.74,318.20 L608.24,316.49 L608.74,314.78 L609.24,313.06 L609.74,311.34 L610.24,309.62 L610.74,307.89 L611.24,306.15 L611.74,304.42 L612.23,302.67 L612.73,300.93 L613.23,299.18 L613.73,297.43 L614.23,295.67 L614.73,293.91 L615.23,292.15 L615.73,290.39 L616.23,288.62 L616.73,286.85 L617.23,285.07 L617.73,283.30 L618.23,281.52 L618.73,279.74 L619.23,277.95 L619.72,276.17 L620.22,274.38 L620.72,272.59 L621.22,270.79 L621.72,269.00 L622.22,267.20 L622.72,265.41 L623.22,263.61 L623.72,261.81 L624.22,260.01 L624.72,258.21 L625.22,256.40 L625.72,254.60 L626.22,252.80 L626.72,250.99 L627.21,249.19 L627.71,247.38 L628.21,245.58 L628.71,243.77 L629.21,241.97 L629.71,240.17 L630.21,238.36 L630.71,236.56 L631.21,234.76 L631.71,232.96 L632.21,231.16 L632.71,229.36 L633.21,227.56 L633.71,225.76 L634.21,223.97 L634.70,222.18 L635.20,220.39 L635.70,218.60 L636.20,216.81 L636.70,215.03 L637.20,213.24 L637.70,211.47 L638.20,209.69 L638.70,207.92 L639.20,206.15 L639.70,204.38 L640.20,202.62 L640.70,200.86 L641.20,199.10 L641.70,197.35 L642.19,195.60 L642.69,193.86 L643.19,192.12 L643.69,190.39 L644.19,188.66 L644.69,186.93 L645.19,185.21 M777.01,185.71 L777.51,187.12 L778.01,188.53 L778.51,189.94 L779.01,191.35 L779.51,192.76 L780.01,194.17 L780.51,195.58 L781.01,196.99 L781.51,198.40 L782.01,199.81 L782.51,201.22 L783.01,202.62 L783.50,204.03 L784.00,205.43 L784.50,206.84 L785.00,208.24 L785.50,209.64 L786.00,211.04 L786.50,212.43 L787.00,213.83" stroke="#111" stroke-width="1.15"/>
<path d="M43.00,69.01 L43.50,69.10 L44.00,69.20 L44.50,69.31 L45.00,69.44 L45.50,69.59 L46.00,69.75 L46.50,69.92 L46.99,70.11 L47.49,70.32 L47.99,70.54 L48.49,70.77 L48.99,71.02 L49.49,71.28 L49.99,71.56 L50.49,71.85 L50.99,72.16 L51.49,72.48 L51.99,72.81 L52.49,73.16 L52.99,73.52 L53.49,73.90 L53.99,74.29 L54.48,74.69 L54.98,75.11 L55.48,75.55 L55.98,75.99 L56.48,76.45 L56.98,76.93 L57.48,77.41 L57.98,77.92 L58.48,78.43 L58.98,78.96 L59.48,79.50 L59.98,80.06 L60.48,80.62 L60.98,81.20 L61.48,81.80 L61.97,82.41 L62.47,83.03 L62.97,83.66 L63.47,84.31 L63.97,84.96 L64.47,85.64 L64.97,86.32 L65.47,87.02 L65.97,87.73 L66.47,88.45 L66.97,89.18 L67.47,89.93 L67.97,90.69 L68.47,91.46 L68.97,92.24 L69.46,93.03 L69.96,93.84 L70.46,94.65 L70.96,95.48 L71.46,96.32 L71.96,97.18 L72.46,98.04 L72.96,98.91 L73.46,99.80 L73.96,100.70 L74.46,101.61 L74.96,102.52 L75.46,103.45 L75.96,104.39 L76.46,105.34 L76.95,106.31 L77.45,107.28 L77.95,108.26 L78.45,109.25 L78.95,110.26 L79.45,111.27 L79.95,112.29 L80.45,113.32 L80.95,114.37 L81.45,115.42 L81.95,116.48 L82.45,117.55 L82.95,118.63 L83.45,119.72 L83.94,120.82 L84.44,121.92 L84.94,123.04 L85.44,124.17 L85.94,125.30 L86.44,126.44 L86.94,127.59 L87.44,128.75 L87.94,129.92 L88.44,131.09 L88.94,132.28 L89.44,133.47 L89.94,134.67 L90.44,135.88 L90.94,137.09 L91.43,138.31 L91.93,139.54 L92.43,140.78 L92.93,142.02 L93.43,143.27 L93.93,144.53 L94.43,145.80 L94.93,147.07 L95.43,148.34 L95.93,149.63 L96.43,150.92 L96.93,152.22 L97.43,153.52 L97.93,154.83 L98.43,156.14 L98.92,157.46 L99.42,158.79 L99.92,160.12 L100.42,161.46 L100.92,162.80 L101.42,164.15 L101.92,165.50 L102.42,166.86 L102.92,168.22 L103.42,169.58 L103.92,170.96 L104.42,172.33 L104.92,173.71 L105.42,175.10 L105.92,176.48 L106.41,177.88 L106.91,179.27 L107.41,180.67 L107.91,182.07 L108.41,183.48 L108.91,184.89 L109.41,186.30 L109.91,187.72 L110.41,189.14 L110.91,190.56 L111.41,191.98 L111.91,193.41 L112.41,194.84 L112.91,196.27 L113.41,197.71 L113.90,199.14 L114.40,200.58 L114.90,202.02 L115.40,203.46 L115.90,204.91 L116.40,206.35 L116.90,207.80 L117.40,209.25 L117.90,210.69 L118.40,212.14 L118.90,213.59 L119.40,215.04 L119.90,216.50 L120.40,217.95 L120.90,219.40 L121.39,220.85 L121.89,222.31 L122.39,223.76 L122.89,225.21 L123.39,226.67 L123.89,228.12 L124.39,229.57 L124.89,231.02 L125.39,232.47 L125.89,233.92 L126.39,235.37 L126.89,236.82 L127.39,238.27 L127.89,239.71 L128.39,241.16 L128.88,242.60 L129.38,244.04 L129.88,245.48 L130.38,246.92 L130.88,248.35 L131.38,249.79 L131.88,251.22 L132.38,252.64 L132.88,254.07 L133.38,255.49 L133.88,256.92 L134.38,258.33 L134.88,259.75 L135.38,261.16 L135.88,262.57 L136.37,263.98 L136.87,265.38 L137.37,266.78 L137.87,268.17 L138.37,269.57 L138.87,270.95 L139.37,272.34 L139.87,273.72 L140.37,275.09 L140.87,276.47 L141.37,277.83 L141.87,279.20 L142.37,280.56 L142.87,281.91 L143.37,283.26 L143.86,284.60 L144.36,285.94 L144.86,287.28 L145.36,288.61 L145.86,289.93 L146.36,291.25 L146.86,292.56 L147.36,293.87 L147.86,295.17 L148.36,296.47 L148.86,297.76 L149.36,299.05 L149.86,300.32 L150.36,301.60 L150.86,302.86 L151.35,304.12 L151.85,305.38 L152.35,306.62 L152.85,307.87 L153.35,309.10 L153.85,310.33 L154.35,311.55 L154.85,312.76 L155.35,313.97 L155.85,315.17 L156.35,316.36 L156.85,317.54 L157.35,318.72 L157.85,319.89 L158.34,321.06 L158.84,322.21 L159.34,323.36 L159.84,324.50 L160.34,325.63 L160.84,326.75 L161.34,327.87 L161.84,328.98 L162.34,330.08 L162.84,331.17 L163.34,332.25 L163.84,333.33 L164.34,334.40 L164.84,335.45 L165.34,336.50 L165.83,337.54 L166.33,338.58 L166.83,339.60 L167.33,340.62 L167.83,341.62 L168.33,342.62 L168.83,343.61 L169.33,344.59 L169.83,345.56 L170.33,346.52 L170.83,347.47 L171.33,348.41 L171.83,349.34 L172.33,350.27 L172.83,351.18 L173.32,352.09 L173.82,352.98 L174.32,353.87 L174.82,354.74 L175.32,355.61 L175.82,356.46 L176.32,357.31 L176.82,358.15 L177.32,358.97 L177.82,359.79 L178.32,360.60 L178.82,361.39 L179.32,362.18 L179.82,362.96 L180.32,363.72 L180.81,364.48 L181.31,365.22 L181.81,365.96 L182.31,366.68 L182.81,367.40 L183.31,368.10 L183.81,368.80 L184.31,369.48 L184.81,370.16 L185.31,370.82 L185.81,371.47 L186.31,372.11 L186.81,372.74 L187.31,373.37 L187.81,373.98 L188.30,374.57 L188.80,375.16 L189.30,375.74 L189.80,376.31 L190.30,376.87 L190.80,377.41 L191.30,377.95 L191.80,378.47 L192.30,378.99 L192.80,379.49 L193.30,379.98 L193.80,380.46 L194.30,380.93 L194.80,381.39 L195.30,381.84 L195.79,382.28 L196.29,382.71 L196.79,383.13 L197.29,383.53 L197.79,383.93 L198.29,384.31 L198.79,384.68 L199.29,385.05 L199.79,385.40 L200.29,385.74 L200.79,386.07 L201.29,386.39 L201.79,386.70 L202.29,386.99 L202.79,387.28 L203.28,387.56 L203.78,387.82 L204.28,388.08 L204.78,388.32 L205.28,388.55 L205.78,388.78 L206.28,388.99 L206.78,389.19 L207.28,389.38 L207.78,389.56 L208.28,389.73 L208.78,389.89 L209.28,390.04 L209.78,390.18 L210.28,390.30 L210.77,390.42 L211.27,390.53 L211.77,390.62 L212.27,390.71 L212.77,390.78 L213.27,390.85 L213.77,390.90 L214.27,390.95 L214.77,390.98 L215.27,391.01 L215.77,391.02 L216.27,391.02 L216.77,391.02 L217.27,391.00 L217.77,390.98 L218.26,390.94 L218.76,390.89 L219.26,390.84 L219.76,390.77 L220.26,390.70 L220.76,390.61 L221.26,390.52 L221.76,390.41 L222.26,390.30 L222.76,390.17 L223.26,390.04 L223.76,389.90 L224.26,389.75 L224.76,389.59 L225.26,389.42 L225.75,389.24 L226.25,389.05 L226.75,388.85 L227.25,388.64 L227.75,388.43 L228.25,388.20 L228.75,387.97 L229.25,387.73 L229.75,387.48 L230.25,387.22 L230.75,386.95 L231.25,386.67 L231.75,386.39 L232.25,386.10 L232.74,385.79 L233.24,385.48 L233.74,385.17 L234.24,384.84 L234.74,384.51 L235.24,384.16 L235.74,383.81 L236.24,383.46 L236.74,383.09 L237.24,382.72 L237.74,382.34 L238.24,381.95 L238.74,381.55 L239.24,381.15 L239.74,380.74 L240.23,380.32 L240.73,379.90 L241.23,379.47 L241.73,379.03 L242.23,378.58 L242.73,378.13 L243.23,377.67 L243.73,377.21 L244.23,376.74 L244.73,376.26 L245.23,375.77 L245.73,375.28 L246.23,374.78 L246.73,374.28 L247.23,373.77 L247.72,373.26 L248.22,372.74 L248.72,372.21 L249.22,371.68 L249.72,371.14 L250.22,370.60 L250.72,370.05 L251.22,369.49 L251.72,368.94 L252.22,368.37 L252.72,367.80 L253.22,367.23 L253.72,366.65 L254.22,366.07 L254.72,365.48 L255.21,364.89 L255.71,364.29 L256.21,363.69 L256.71,363.08 L257.21,362.47 L257.71,361.86 L258.21,361.24 L258.71,360.62 L259.21,360.00 L259.71,359.37 L260.21,358.74 L260.71,358.10 L261.21,357.46 L261.71,356.82 L262.21,356.17 L262.70,355.53 L263.20,354.87 L263.70,354.22 L264.20,353.56 L264.70,352.91 L265.20,352.24 L265.70,351.58 L266.20,350.91 L266.70,350.25 L267.20,349.57 L267.70,348.90 L268.20,348.23 L268.70,347.55 L269.20,346.87 L269.70,346.20 L270.19,345.51 L270.69,344.83 L271.19,344.15 L271.69,343.47 L272.19,342.78 L272.69,342.09 L273.19,341.41 L273.69,340.72 L274.19,340.03 L274.69,339.34 L275.19,338.65 L275.69,337.96 L276.19,337.27 L276.69,336.58 L277.19,335.89 L277.68,335.21 L278.18,334.52 L278.68,333.83 L279.18,333.14 L279.68,332.45 L280.18,331.76 L280.68,331.08 L281.18,330.39 L281.68,329.71 L282.18,329.03 L282.68,328.34 L283.18,327.66 L283.68,326.98 L284.18,326.31 L284.68,325.63 L285.17,324.96 L285.67,324.28 L286.17,323.61 L286.67,322.94 L287.17,322.28 L287.67,321.61 L288.17,320.95 L288.67,320.29 L289.17,319.64 L289.67,318.98 L290.17,318.33 L290.67,317.68 L291.17,317.04 L291.67,316.40 L292.17,315.76 L292.66,315.12 L293.16,314.49 L293.66,313.86 L294.16,313.23 L294.66,312.61 L295.16,312.00 L295.66,311.38 L296.16,310.77 L296.66,310.17 L297.16,309.56 L297.66,308.97 L298.16,308.37 L298.66,307.79 L299.16,307.20 L299.66,306.62 L300.15,306.05 L300.65,305.48 L301.15,304.91 L301.65,304.35 L302.15,303.80 L302.65,303.25 L303.15,302.71 L303.65,302.17 L304.15,301.63 L304.65,301.11 L305.15,300.59 L305.65,300.07 L306.15,299.56 L306.65,299.06 L307.14,298.56 L307.64,298.07 L308.14,297.58 L308.64,297.10 L309.14,296.63 L309.64,296.16 L310.14,295.70 L310.64,295.25 L311.14,294.80 L311.64,294.36 L312.14,293.93 L312.64,293.50 L313.14,293.08 L313.64,292.67 L314.14,292.27 L314.63,291.87 L315.13,291.48 L315.63,291.10 L316.13,290.72 L316.63,290.35 L317.13,289.99 L317.63,289.64 L318.13,289.30 L318.63,288.96 L319.13,288.63 L319.63,288.31 L320.13,288.00 L320.63,287.69 L321.13,287.40 L321.63,287.11 L322.12,286.83 L322.62,286.56 L323.12,286.30 L323.62,286.04 L324.12,285.80 L324.62,285.56 L325.12,285.33 L325.62,285.11 L326.12,284.90 L326.62,284.70 L327.12,284.51 L327.62,284.32 L328.12,284.15 L328.62,283.99 L329.12,283.83 L329.61,283.68 L330.11,283.54 L330.61,283.42 L331.11,283.30 L331.61,283.19 L332.11,283.09 L332.61,283.00 L333.11,282.92 L333.61,282.84 L334.11,282.78 L334.61,282.73 L335.11,282.69 L335.61,282.66 L336.11,282.63 L336.61,282.62 L337.10,282.62 L337.60,282.63 L338.10,282.64 L338.60,282.67 L339.10,282.71 L339.60,282.75 L340.10,282.81 L340.60,282.88 L341.10,282.96 L341.60,283.04 L342.10,283.14 L342.60,283.25 L343.10,283.37 L343.60,283.50 L344.10,283.64 L344.59,283.79 L345.09,283.95 L345.59,284.12 L346.09,284.30 L346.59,284.49 L347.09,284.69 L347.59,284.91 L348.09,285.13 L348.59,285.36 L349.09,285.61 L349.59,285.86 L350.09,286.12 L350.59,286.40 L351.09,286.69 L351.59,286.98 L352.08,287.29 L352.58,287.61 L353.08,287.94 L353.58,288.27 L354.08,288.62 L354.58,288.98 L355.08,289.35 L355.58,289.74 L356.08,290.13 L356.58,290.53 L357.08,290.94 L357.58,291.37 L358.08,291.80 L358.58,292.25 L359.08,292.70 L359.57,293.17 L360.07,293.64 L360.57,294.13 L361.07,294.63 L361.57,295.14 L362.07,295.66 L362.57,296.18 L363.07,296.72 L363.57,297.27 L364.07,297.83 L364.57,298.40 L365.07,298.99 L365.57,299.58 L366.07,300.18 L366.57,300.79 L367.06,301.41 L367.56,302.05 L368.06,302.69 L368.56,303.34 L369.06,304.00 L369.56,304.68 L370.06,305.36 L370.56,306.05 L371.06,306.76 L371.56,307.47 L372.06,308.19 L372.56,308.93 L373.06,309.67 L373.56,310.42 L374.06,311.19 L374.55,311.96 L375.05,312.74 L375.55,313.53 L376.05,314.34 L376.55,315.15 L377.05,315.97 L377.55,316.80 L378.05,317.64 L378.55,318.49 L379.05,319.35 L379.55,320.21 L380.05,321.09 L380.55,321.98 L381.05,322.87 L381.54,323.78 L382.04,324.69 L382.54,325.61 L383.04,326.54 L383.54,327.48 L384.04,328.43 L384.54,329.39 L385.04,330.36 L385.54,331.33 L386.04,332.31 L386.54,333.31 L387.04,334.31 L387.54,335.32 L388.04,336.33 L388.54,337.36 L389.03,338.39 L389.53,339.43 L390.03,340.48 L390.53,341.54 L391.03,342.60 L391.53,343.68 L392.03,344.76 L392.53,345.84 L393.03,346.94 L393.53,348.04 L394.03,349.15 L394.53,350.27 L395.03,351.40 L395.53,352.53 L396.03,353.67 L396.52,354.81 L397.02,355.96 L397.52,357.12 L398.02,358.29 L398.52,359.46 L399.02,360.64 L399.52,361.83 L400.02,363.02 L400.52,364.22 L401.02,365.43 L401.52,366.64 L402.02,367.85 L402.52,369.08 L403.02,370.30 L403.52,371.54 L404.01,372.78 L404.51,374.02 L405.01,375.27 L405.51,376.53 L406.01,377.79 L406.51,379.06 L407.01,380.33 L407.51,381.61 L408.01,382.89 L408.51,384.18 L409.01,385.47 L409.51,386.76 L410.01,388.06 L410.51,389.37 L411.01,390.67 L411.50,391.99 L412.00,393.30 L412.50,394.62 L413.00,395.95 L413.50,397.28 L414.00,398.61 L414.50,399.94 L415.00,401.28 L415.50,402.62 L416.00,403.97 L416.50,405.32 L417.00,406.67 L417.50,408.02 L418.00,409.38 L418.50,410.74 L418.99,412.10 L419.49,413.46 L419.99,414.83 L420.49,416.20 L420.99,417.57 L421.49,418.94 L421.99,420.31 L422.49,421.69 L422.99,423.07 L423.49,424.45 L423.99,425.83 L424.49,427.21 L424.99,428.59 L425.49,429.97 L425.99,431.36 L426.48,432.74 L426.98,434.13 L427.48,435.52 L427.98,436.90 L428.48,438.29 L428.98,439.68 L429.48,441.07 L429.98,442.45 L430.48,443.84 L430.98,445.23 L431.48,446.62 L431.98,448.00 L432.48,449.39 L432.98,450.77 L433.48,452.16 L433.97,453.54 L434.47,454.92 L434.97,456.30 L435.47,457.68 L435.97,459.06 L436.47,460.43 L436.97,461.81 L437.47,463.18 L437.97,464.55 L438.47,465.92 L438.97,467.29 L439.47,468.65 L439.97,470.01 L440.47,471.37 L440.97,472.73 L441.46,474.08 L441.96,475.43 L442.46,476.78 L442.96,478.12 L443.46,479.46 L443.96,480.80 L444.46,482.13 L444.96,483.46 L445.46,484.79 L445.96,486.11 L446.46,487.43 L446.96,488.75 L447.46,490.06 L447.96,491.36 L448.46,492.66 L448.95,493.96 L449.45,495.25 L449.95,496.54 L450.45,497.82 L450.95,499.10 L451.45,500.37 L451.95,501.64 L452.45,502.90 L452.95,504.15 L453.45,505.40 L453.95,506.64 L454.45,507.88 L454.95,509.11 L455.45,510.34 L455.94,511.56 L456.44,512.77 L456.94,513.98 L457.44,515.18 L457.94,516.37 L458.44,517.56 L458.94,518.74 L459.44,519.91 L459.94,521.08 L460.44,522.23 L460.94,523.38 L461.44,524.53 L461.94,525.66 L462.44,526.79 L462.94,527.91 L463.43,529.02 L463.93,530.12 L464.43,531.22 L464.93,532.31 L465.43,533.39 L465.93,534.46 L466.43,535.52 L466.93,536.57 L467.43,537.61 L467.93,538.65 L468.43,539.68 L468.93,540.69 L469.43,541.70 L469.93,542.70 L470.43,543.69 L470.92,544.67 L471.42,545.64 L471.92,546.60 L472.42,547.55 L472.92,548.49 L473.42,549.42 L473.92,550.34 L474.42,551.25 L474.92,552.15 L475.42,553.04 L475.92,553.92 L476.42,554.78 L476.92,555.64 L477.42,556.49 L477.92,557.32 L478.41,558.15 L478.91,558.96 L479.41,559.77 L479.91,560.56 L480.41,561.34 L480.91,562.11 L481.41,562.86 L481.91,563.61 L482.41,564.34 L482.91,565.06 L483.41,565.77 L483.91,566.47 L484.41,567.16 L484.91,567.83 L485.41,568.49 L485.90,569.14 L486.40,569.78 L486.90,570.41 L487.40,571.02 L487.90,571.62 L488.40,572.21 L488.90,572.78 L489.40,573.34 L489.90,573.89 L490.40,574.43 L490.90,574.95 L491.40,575.46 L491.90,575.96 L492.40,576.44 L492.90,576.92 L493.39,577.37 L493.89,577.82 L494.39,578.25 L494.89,578.67 L495.39,579.07 L495.89,579.46 L496.39,579.84 L496.89,580.20 L497.39,580.55 L497.89,580.88 L498.39,581.20 L498.89,581.51 L499.39,581.80 L499.89,582.08 L500.39,582.35 L500.88,582.60 L501.38,582.84 L501.88,583.06 L502.38,583.27 L502.88,583.46 L503.38,583.64 L503.88,583.81 L504.38,583.96 L504.88,584.09 L505.38,584.22 L505.88,584.32 L506.38,584.42 L506.88,584.49 L507.38,584.56 L507.88,584.60 L508.37,584.64 L508.87,584.66 L509.37,584.66 L509.87,584.65 L510.37,584.63 L510.87,584.59 L511.37,584.53 L511.87,584.46 L512.37,584.38 L512.87,584.28 L513.37,584.16 L513.87,584.03 L514.37,583.89 L514.87,583.73 L515.37,583.55 L515.86,583.36 L516.36,583.15 L516.86,582.93 L517.36,582.70 L517.86,582.45 L518.36,582.18 L518.86,581.90 L519.36,581.60 L519.86,581.29 L520.36,580.97 L520.86,580.62 L521.36,580.27 L521.86,579.90 L522.36,579.51 L522.86,579.11 L523.35,578.69 L523.85,578.26 L524.35,577.81 L524.85,577.34 L525.35,576.87 L525.85,576.37 L526.35,575.87 L526.85,575.34 L527.35,574.80 L527.85,574.25 L528.35,573.68 L528.85,573.10 L529.35,572.50 L529.85,571.88 L530.34,571.25 L530.84,570.61 L531.34,569.95 L531.84,569.28 L532.34,568.59 L532.84,567.89 L533.34,567.17 L533.84,566.43 L534.34,565.69 L534.84,564.92 L535.34,564.15 L535.84,563.35 L536.34,562.55 L536.84,561.72 L537.34,560.89 L537.83,560.04 L538.33,559.17 L538.83,558.29 L539.33,557.40 L539.83,556.49 L540.33,555.57 L540.83,554.63 L541.33,553.68 L541.83,552.71 L542.33,551.73 L542.83,550.74 L543.33,549.73 L543.83,548.71 L544.33,547.67 L544.83,546.62 L545.32,545.56 L545.82,544.48 L546.32,543.39 L546.82,542.28 L547.32,541.16 L547.82,540.03 L548.32,538.88 L548.82,537.72 L549.32,536.55 L549.82,535.36 L550.32,534.16 L550.82,532.95 L551.32,531.73 L551.82,530.49 L552.32,529.23 L552.81,527.97 L553.31,526.69 L553.81,525.40 L554.31,524.10 L554.81,522.78 L555.31,521.45 L555.81,520.11 L556.31,518.76 L556.81,517.39 L557.31,516.02 L557.81,514.63 L558.31,513.22 L558.81,511.81 L559.31,510.38 L559.81,508.94 L560.30,507.49 L560.80,506.03 L561.30,504.56 L561.80,503.08 L562.30,501.58 L562.80,500.07 L563.30,498.55 L563.80,497.02 L564.30,495.48 L564.80,493.93 L565.30,492.37 L565.80,490.80 L566.30,489.21 L566.80,487.62 L567.30,486.01 L567.79,484.40 L568.29,482.77 L568.79,481.14 L569.29,479.49 L569.79,477.84 L570.29,476.17 L570.79,474.49 L571.29,472.81 L571.79,471.12 L572.29,469.41 L572.79,467.70 L573.29,465.98 L573.79,464.24 L574.29,462.50 L574.79,460.75 L575.28,459.00 L575.78,457.23 L576.28,455.45 L576.78,453.67 L577.28,451.88 L577.78,450.08 L578.28,448.27 L578.78,446.45 L579.28,444.63 L579.78,442.79 L580.28,440.96 L580.78,439.11 L581.28,437.25 L581.78,435.39 L582.28,433.52 L582.77,431.65 L583.27,429.76 L583.77,427.87 L584.27,425.98 L584.77,424.07 L585.27,422.16 L585.77,420.25 L586.27,418.32 L586.77,416.40 L587.27,414.46 L587.77,412.52 L588.27,410.58 L588.77,408.63 L589.27,406.67 L589.77,404.71 L590.26,402.74 L590.76,400.77 L591.26,398.79 L591.76,396.81 L592.26,394.82 L592.76,392.83 L593.26,390.84 L593.76,388.84 L594.26,386.83 L594.76,384.83 L595.26,382.81 L595.76,380.80 L596.26,378.78 L596.76,376.76 L597.26,374.73 L597.75,372.70 L598.25,370.67 L598.75,368.63 L599.25,366.60 L599.75,364.56 L600.25,362.51 L600.75,360.47 L601.25,358.42 L601.75,356.37 L602.25,354.32 L602.75,352.26 L603.25,350.21 L603.75,348.15 L604.25,346.09 L604.74,344.03 L605.24,341.97 L605.74,339.91 L606.24,337.85 L606.74,335.78 L607.24,333.72 L607.74,331.66 L608.24,329.59 L608.74,327.53 L609.24,325.46 L609.74,323.39 L610.24,321.33 L610.74,319.26 L611.24,317.20 L611.74,315.14 L612.23,313.07 L612.73,311.01 L613.23,308.95 L613.73,306.89 L614.23,304.83 L614.73,302.77 L615.23,300.72 L615.73,298.66 L616.23,296.61 L616.73,294.56 L617.23,292.51 L617.73,290.47 L618.23,288.42 L618.73,286.38 L619.23,284.34 L619.72,282.31 L620.22,280.27 L620.72,278.24 L621.22,276.22 L621.72,274.19 L622.22,272.17 L622.72,270.16 L623.22,268.15 L623.72,266.14 L624.22,264.13 L624.72,262.13 L625.22,260.13 L625.72,258.14 L626.22,256.16 L626.72,254.17 L627.21,252.19 L627.71,250.22 L628.21,248.25 L628.71,246.29 L629.21,244.33 L629.71,242.38 L630.21,240.43 L630.71,238.49 L631.21,236.56 L631.71,234.63 L632.21,232.70 L632.71,230.79 L633.21,228.87 L633.71,226.97 L634.21,225.07 L634.70,223.18 L635.20,221.30 L635.70,219.42 L636.20,217.55 L636.70,215.68 L637.20,213.83 L637.70,211.98 L638.20,210.14 L638.70,208.30 L639.20,206.48 L639.70,204.66 L640.20,202.85 L640.70,201.05 L641.20,199.25 L641.70,197.47 L642.19,195.69 L642.69,193.92 L643.19,192.16 L643.69,190.41 L644.19,188.67 L644.69,186.94 L645.19,185.21 L645.69,183.50 L646.19,181.79 L646.69,180.10 L647.19,178.41 L647.69,176.74 L648.19,175.07 L648.69,173.41 L649.19,171.77 L649.68,170.13 L650.18,168.50 L650.68,166.89 L651.18,165.28 L651.68,163.68 L652.18,162.10 L652.68,160.53 L653.18,158.96 L653.68,157.41 L654.18,155.87 L654.68,154.34 L655.18,152.82 L655.68,151.31 L656.18,149.81 L656.68,148.33 L657.17,146.86 L657.67,145.39 L658.17,143.94 L658.67,142.51 L659.17,141.08 L659.67,139.66 L660.17,138.26 L660.67,136.87 L661.17,135.49 L661.67,134.13 L662.17,132.77 L662.67,131.43 L663.17,130.11 L663.67,128.79 L664.17,127.49 L664.66,126.20 L665.16,124.92 L665.66,123.65 L666.16,122.40 L666.66,121.17 L667.16,119.94 L667.66,118.73 L668.16,117.53 L668.66,116.34 L669.16,115.17 L669.66,114.01 L670.16,112.87 L670.66,111.74 L671.16,110.62 L671.66,109.52 L672.15,108.43 L672.65,107.35 L673.15,106.29 L673.65,105.24 L674.15,104.21 L674.65,103.19 L675.15,102.18 L675.65,101.19 L676.15,100.21 L676.65,99.25 L677.15,98.30 L677.65,97.37 L678.15,96.45 L678.65,95.54 L679.14,94.65 L679.64,93.78 L680.14,92.91 L680.64,92.07 L681.14,91.24 L681.64,90.42 L682.14,89.62 L682.64,88.83 L683.14,88.06 L683.64,87.30 L684.14,86.55 L684.64,85.83 L685.14,85.11 L685.64,84.42 L686.14,83.73 L686.63,83.06 L687.13,82.41 L687.63,81.77 L688.13,81.15 L688.63,80.54 L689.13,79.95 L689.63,79.38 L690.13,78.81 L690.63,78.27 L691.13,77.74 L691.63,77.22 L692.13,76.72 L692.63,76.23 L693.13,75.76 L693.63,75.31 L694.12,74.87 L694.62,74.45 L695.12,74.04 L695.62,73.65 L696.12,73.27 L696.62,72.90 L697.12,72.56 L697.62,72.23 L698.12,71.91 L698.62,71.61 L699.12,71.32 L699.62,71.05 L700.12,70.80 L700.62,70.56 L701.12,70.34 L701.61,70.13 L702.11,69.93 L702.61,69.76 L703.11,69.59 L703.61,69.45 L704.11,69.31 L704.61,69.20 L705.11,69.09 L705.61,69.01 L706.11,68.94 L706.61,68.88 L707.11,68.84 L707.61,68.81 L708.11,68.80 L708.61,68.81 L709.10,68.83 L709.60,68.86 L710.10,68.91 L710.60,68.98 L711.10,69.06 L711.60,69.15 L712.10,69.26 L712.60,69.39 L713.10,69.53 L713.60,69.68 L714.10,69.85 L714.60,70.03 L715.10,70.23 L715.60,70.44 L716.10,70.67 L716.59,70.91 L717.09,71.17 L717.59,71.44 L718.09,71.73 L718.59,72.03 L719.09,72.34 L719.59,72.67 L720.09,73.01 L720.59,73.37 L721.09,73.74 L721.59,74.12 L722.09,74.52 L722.59,74.94 L723.09,75.36 L723.59,75.80 L724.08,76.26 L724.58,76.73 L725.08,77.21 L725.58,77.70 L726.08,78.21 L726.58,78.73 L727.08,79.27 L727.58,79.82 L728.08,80.38 L728.58,80.96 L729.08,81.55 L729.58,82.15 L730.08,82.76 L730.58,83.39 L731.08,84.03 L731.57,84.69 L732.07,85.35 L732.57,86.03 L733.07,86.72 L733.57,87.43 L734.07,88.14 L734.57,88.87 L735.07,89.61 L735.57,90.36 L736.07,91.13 L736.57,91.91 L737.07,92.70 L737.57,93.50 L738.07,94.31 L738.57,95.13 L739.06,95.97 L739.56,96.82 L740.06,97.68 L740.56,98.55 L741.06,99.43 L741.56,100.32 L742.06,101.22 L742.56,102.14 L743.06,103.06 L743.56,104.00 L744.06,104.94 L744.56,105.90 L745.06,106.87 L745.56,107.85 L746.06,108.83 L746.55,109.83 L747.05,110.84 L747.55,111.86 L748.05,112.89 L748.55,113.93 L749.05,114.97 L749.55,116.03 L750.05,117.10 L750.55,118.17 L751.05,119.26 L751.55,120.35 L752.05,121.46 L752.55,122.57 L753.05,123.69 L753.54,124.82 L754.04,125.96 L754.54,127.11 L755.04,128.26 L755.54,129.43 L756.04,130.60 L756.54,131.78 L757.04,132.97 L757.54,134.16 L758.04,135.37 L758.54,136.58 L759.04,137.80 L759.54,139.02 L760.04,140.26 L760.54,141.50 L761.03,142.75 L761.53,144.00 L762.03,145.26 L762.53,146.53 L763.03,147.81 L763.53,149.09 L764.03,150.38 L764.53,151.67 L765.03,152.97 L765.53,154.28 L766.03,155.59 L766.53,156.91 L767.03,158.23 L767.53,159.56 L768.03,160.89 L768.52,162.23 L769.02,163.58 L769.52,164.93 L770.02,166.28 L770.52,167.64 L771.02,169.01 L771.52,170.38 L772.02,171.75 L772.52,173.13 L773.02,174.51 L773.52,175.90 L774.02,177.29 L774.52,178.68 L775.02,180.08 L775.52,181.48 L776.01,182.89 L776.51,184.30 L777.01,185.71 L777.51,187.12 L778.01,188.54 L778.51,189.96 L779.01,191.38 L779.51,192.81 L780.01,194.24 L780.51,195.67 L781.01,197.10 L781.51,198.54 L782.01,199.98 L782.51,201.42 L783.01,202.86 L783.50,204.30 L784.00,205.74 L784.50,207.19 L785.00,208.64 L785.50,210.08 L786.00,211.53 L786.50,212.98 L787.00,214.43" stroke-width="3.45"/>
</g>
<text class="s" transform="translate(9.5,193.8) scale(1.07,1)" style="font-size:40.4px;stroke-width:0.35px">E</text>
<text class="s"><tspan class="a" x="461.36" y="191.0" font-size="41.2" textLength="25.9" lengthAdjust="spacingAndGlyphs">α</tspan><tspan class="q" x="485.20" y="194.60" textLength="24.37" lengthAdjust="spacingAndGlyphs">=</tspan><tspan x="508.35" y="191.0">0.1</tspan></text>
<text class="s"><tspan class="a" x="459.36" y="266.0" font-size="41.2" textLength="25.9" lengthAdjust="spacingAndGlyphs">α</tspan><tspan class="q" x="483.20" y="269.60" textLength="24.37" lengthAdjust="spacingAndGlyphs">=</tspan><tspan x="506.35" y="266.0">0.8</tspan></text>
<text class="s"><tspan class="a" x="475.86" y="335.8" font-size="41.2" textLength="25.9" lengthAdjust="spacingAndGlyphs">α</tspan><tspan class="q" x="499.70" y="339.40" textLength="24.37" lengthAdjust="spacingAndGlyphs">=</tspan><tspan x="522.85" y="335.8">2</tspan></text>
<text class="s"><tspan class="a" x="467.56" y="461.9" font-size="41.2" textLength="25.9" lengthAdjust="spacingAndGlyphs">α</tspan><tspan class="q" x="491.40" y="465.50" textLength="24.37" lengthAdjust="spacingAndGlyphs">=</tspan><tspan x="514.55" y="461.9">10</tspan></text>
<text class="n"><tspan x="396" y="553.6" font-size="37" textLength="22.7" lengthAdjust="spacingAndGlyphs" style="stroke-width:0.7px">V</tspan><tspan x="419.2" y="552" font-size="35" textLength="9.32" lengthAdjust="spacingAndGlyphs">(</tspan><tspan x="429.9" y="553.6" font-size="38.5">r</tspan><tspan x="444.1" y="552" font-size="35" textLength="9.32" lengthAdjust="spacingAndGlyphs">)</tspan></text>
<text class="n" transform="translate(405.9,658.0) scale(1.13,1)" font-size="40" style="stroke-width:0.15px">r</text>
</svg>
</body></html>
